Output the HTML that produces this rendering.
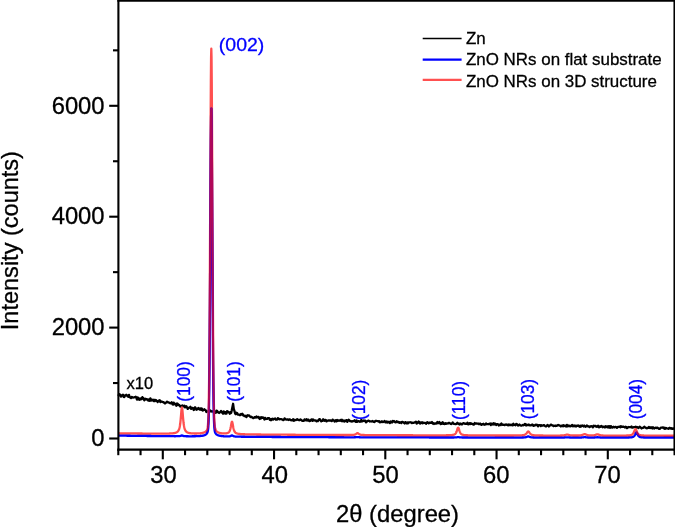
<!DOCTYPE html>
<html><head><meta charset="utf-8"><title>XRD</title>
<style>
html,body{margin:0;padding:0;background:#fff;}
body{width:675px;height:527px;overflow:hidden;}
svg{display:block;will-change:transform;}
text{font-family:"Liberation Sans",sans-serif;fill:#000;stroke:#000;stroke-width:0.3px;}
.tk{font-size:23.8px;}
.pk{font-size:17.3px;fill:#0000ff;stroke:#0000ff;}
.lg{font-size:16.93px;}
.ax{font-size:23.8px;}
</style></head><body>
<svg width="675" height="527" viewBox="0 0 675 527">
<defs>
<path id="rp" d="M118.30 433.26L118.52 433.27L118.75 433.27L118.97 433.27L119.19 433.27L119.41 433.28L119.64 433.28L119.86 433.28L120.08 433.29L120.30 433.29L120.53 433.29L120.75 433.29L120.97 433.30L121.19 433.30L121.42 433.30L121.64 433.30L121.86 433.31L122.08 433.31L122.31 433.31L122.53 433.31L122.75 433.32L122.97 433.32L123.20 433.32L123.42 433.32L123.64 433.33L123.86 433.33L124.09 433.33L124.31 433.33L124.53 433.34L124.75 433.34L124.98 433.34L125.20 433.34L125.42 433.35L125.64 433.35L125.87 433.35L126.09 433.35L126.31 433.36L126.53 433.36L126.76 433.36L126.98 433.36L127.20 433.37L127.42 433.37L127.65 433.37L127.87 433.37L128.09 433.38L128.31 433.38L128.54 433.38L128.76 433.38L128.98 433.39L129.20 433.39L129.43 433.39L129.65 433.39L129.87 433.40L130.09 433.40L130.31 433.40L130.54 433.40L130.76 433.41L130.98 433.41L131.21 433.41L131.43 433.41L131.65 433.42L131.87 433.42L132.09 433.42L132.32 433.42L132.54 433.43L132.76 433.43L132.99 433.43L133.21 433.43L133.43 433.44L133.65 433.44L133.88 433.44L134.10 433.44L134.32 433.44L134.54 433.45L134.77 433.45L134.99 433.45L135.21 433.45L135.43 433.46L135.66 433.46L135.88 433.46L136.10 433.46L136.32 433.46L136.55 433.47L136.77 433.47L136.99 433.47L137.21 433.47L137.44 433.48L137.66 433.48L137.88 433.48L138.10 433.48L138.33 433.48L138.55 433.49L138.77 433.49L138.99 433.49L139.22 433.49L139.44 433.50L139.66 433.50L139.88 433.50L140.11 433.50L140.33 433.50L140.55 433.51L140.77 433.51L141.00 433.51L141.22 433.51L141.44 433.51L141.66 433.52L141.89 433.52L142.11 433.52L142.33 433.52L142.55 433.53L142.78 433.53L143.00 433.53L143.22 433.53L143.44 433.53L143.67 433.54L143.89 433.54L144.11 433.54L144.33 433.54L144.56 433.54L144.78 433.54L145.00 433.55L145.22 433.55L145.45 433.55L145.67 433.55L145.89 433.55L146.11 433.56L146.34 433.56L146.56 433.56L146.78 433.56L147.00 433.56L147.23 433.57L147.45 433.57L147.67 433.57L147.89 433.57L148.12 433.57L148.34 433.57L148.56 433.58L148.78 433.58L149.01 433.58L149.23 433.58L149.45 433.58L149.67 433.58L149.90 433.59L150.12 433.59L150.34 433.59L150.56 433.59L150.79 433.59L151.01 433.59L151.23 433.60L151.45 433.60L151.68 433.60L151.90 433.60L152.12 433.60L152.34 433.60L152.56 433.60L152.79 433.61L153.01 433.61L153.23 433.61L153.46 433.61L153.68 433.61L153.90 433.61L154.12 433.61L154.35 433.61L154.57 433.62L154.79 433.62L155.01 433.62L155.24 433.62L155.46 433.62L155.68 433.62L155.90 433.62L156.12 433.62L156.35 433.62L156.57 433.62L156.79 433.62L157.02 433.63L157.24 433.63L157.46 433.63L157.68 433.63L157.91 433.63L158.13 433.63L158.35 433.63L158.57 433.63L158.80 433.63L159.02 433.63L159.24 433.63L159.46 433.63L159.69 433.63L159.91 433.63L160.13 433.63L160.35 433.63L160.58 433.63L160.80 433.63L161.02 433.63L161.24 433.63L161.47 433.63L161.69 433.63L161.91 433.63L162.13 433.63L162.36 433.63L162.58 433.63L162.80 433.63L163.02 433.63L163.25 433.62L163.47 433.62L163.69 433.62L163.91 433.62L164.14 433.62L164.36 433.62L164.58 433.61L164.80 433.61L165.03 433.61L165.25 433.61L165.47 433.61L165.69 433.60L165.92 433.60L166.14 433.60L166.36 433.59L166.58 433.59L166.81 433.59L167.03 433.58L167.25 433.58L167.47 433.57L167.70 433.57L167.92 433.56L168.14 433.56L168.36 433.55L168.59 433.54L168.81 433.54L169.03 433.53L169.25 433.52L169.48 433.51L169.70 433.50L169.92 433.49L170.14 433.48L170.37 433.47L170.59 433.46L170.81 433.45L171.03 433.44L171.25 433.42L171.48 433.41L171.70 433.39L171.92 433.37L172.15 433.35L172.37 433.33L172.59 433.31L172.81 433.29L173.04 433.26L173.26 433.24L173.48 433.21L173.70 433.18L173.93 433.14L174.15 433.10L174.37 433.06L174.59 433.02L174.81 432.97L175.04 432.92L175.26 432.86L175.48 432.79L175.71 432.72L175.93 432.64L176.15 432.55L176.37 432.45L176.60 432.34L176.82 432.22L177.04 432.08L177.26 431.92L177.49 431.74L177.71 431.54L177.93 431.30L178.15 431.02L178.38 430.69L178.60 430.30L178.82 429.84L179.04 429.28L179.27 428.60L179.49 427.77L179.71 426.76L179.93 425.53L180.16 424.03L180.38 422.25L180.60 420.14L180.82 417.72L181.05 415.07L181.27 412.36L181.49 409.91L181.71 408.17L181.94 407.53L182.16 408.17L182.38 409.91L182.60 412.36L182.83 415.07L183.05 417.73L183.27 420.15L183.49 422.25L183.72 424.04L183.94 425.53L184.16 426.77L184.38 427.78L184.61 428.61L184.83 429.29L185.05 429.85L185.27 430.32L185.50 430.71L185.72 431.03L185.94 431.31L186.16 431.55L186.38 431.76L186.61 431.94L186.83 432.10L187.05 432.24L187.28 432.36L187.50 432.47L187.72 432.57L187.94 432.66L188.17 432.74L188.39 432.81L188.61 432.87L188.83 432.93L189.06 432.99L189.28 433.04L189.50 433.08L189.72 433.12L189.94 433.16L190.17 433.19L190.39 433.22L190.61 433.25L190.84 433.28L191.06 433.30L191.28 433.32L191.50 433.34L191.73 433.36L191.95 433.38L192.17 433.39L192.39 433.41L192.62 433.42L192.84 433.43L193.06 433.44L193.28 433.45L193.50 433.46L193.73 433.47L193.95 433.47L194.17 433.48L194.40 433.48L194.62 433.49L194.84 433.49L195.06 433.49L195.29 433.49L195.51 433.49L195.73 433.49L195.95 433.49L196.18 433.49L196.40 433.49L196.62 433.48L196.84 433.48L197.06 433.47L197.29 433.47L197.51 433.46L197.73 433.45L197.95 433.44L198.18 433.43L198.40 433.42L198.62 433.41L198.85 433.40L199.07 433.38L199.29 433.37L199.51 433.35L199.74 433.33L199.96 433.31L200.18 433.29L200.40 433.27L200.62 433.24L200.85 433.22L201.07 433.19L201.29 433.15L201.52 433.12L201.74 433.08L201.96 433.04L202.18 433.00L202.41 432.95L202.63 432.90L202.85 432.85L203.07 432.79L203.30 432.72L203.52 432.65L203.74 432.57L203.96 432.49L204.19 432.40L204.41 432.29L204.63 432.18L204.85 432.06L205.07 431.92L205.30 431.77L205.52 431.60L205.74 431.41L205.97 431.20L206.19 430.96L206.41 430.68L206.63 430.36L206.86 429.97L207.08 429.49L207.30 428.85L207.52 427.95L207.75 426.62L207.97 424.57L208.19 421.37L208.41 416.40L208.64 408.82L208.86 397.61L209.08 381.63L209.30 359.80L209.53 331.34L209.75 296.09L209.97 254.77L210.19 209.21L210.42 162.39L210.64 118.35L210.86 81.77L211.08 57.36L211.31 48.75L211.53 57.36L211.75 81.78L211.97 118.36L212.19 162.41L212.42 209.22L212.64 254.79L212.86 296.11L213.08 331.37L213.31 359.83L213.53 381.66L213.75 397.65L213.98 408.86L214.20 416.44L214.42 421.41L214.64 424.61L214.87 426.66L215.09 428.00L215.31 428.90L215.53 429.54L215.75 430.03L215.98 430.42L216.20 430.74L216.42 431.02L216.65 431.27L216.87 431.48L217.09 431.67L217.31 431.84L217.54 432.00L217.76 432.14L217.98 432.26L218.20 432.38L218.43 432.48L218.65 432.57L218.87 432.66L219.09 432.74L219.31 432.81L219.54 432.88L219.76 432.94L219.98 432.99L220.20 433.05L220.43 433.09L220.65 433.14L220.87 433.17L221.10 433.21L221.32 433.24L221.54 433.27L221.76 433.30L221.99 433.33L222.21 433.35L222.43 433.37L222.65 433.39L222.88 433.40L223.10 433.41L223.32 433.43L223.54 433.43L223.77 433.44L223.99 433.44L224.21 433.45L224.43 433.44L224.66 433.44L224.88 433.43L225.10 433.43L225.32 433.41L225.55 433.40L225.77 433.38L225.99 433.35L226.21 433.32L226.44 433.29L226.66 433.25L226.88 433.20L227.10 433.15L227.32 433.08L227.55 433.01L227.77 432.92L227.99 432.82L228.22 432.69L228.44 432.55L228.66 432.37L228.88 432.16L229.11 431.90L229.33 431.58L229.55 431.20L229.77 430.72L230.00 430.14L230.22 429.44L230.44 428.60L230.66 427.60L230.89 426.46L231.11 425.20L231.33 423.92L231.55 422.76L231.78 421.94L232.00 421.64L232.22 421.95L232.44 422.79L232.67 423.96L232.89 425.25L233.11 426.52L233.33 427.68L233.56 428.69L233.78 429.54L234.00 430.26L234.22 430.85L234.44 431.33L234.67 431.73L234.89 432.06L235.11 432.33L235.33 432.56L235.56 432.75L235.78 432.91L236.00 433.05L236.23 433.17L236.45 433.27L236.67 433.36L236.89 433.44L237.12 433.51L237.34 433.57L237.56 433.63L237.78 433.68L238.00 433.73L238.23 433.77L238.45 433.81L238.67 433.84L238.90 433.88L239.12 433.91L239.34 433.93L239.56 433.96L239.79 433.98L240.01 434.00L240.23 434.02L240.45 434.04L240.68 434.06L240.90 434.08L241.12 434.09L241.34 434.11L241.56 434.12L241.79 434.14L242.01 434.15L242.23 434.16L242.45 434.17L242.68 434.18L242.90 434.19L243.12 434.20L243.35 434.21L243.57 434.22L243.79 434.23L244.01 434.24L244.24 434.25L244.46 434.25L244.68 434.26L244.90 434.27L245.12 434.28L245.35 434.28L245.57 434.29L245.79 434.29L246.02 434.30L246.24 434.31L246.46 434.31L246.68 434.32L246.91 434.32L247.13 434.33L247.35 434.33L247.57 434.34L247.80 434.34L248.02 434.35L248.24 434.35L248.46 434.36L248.69 434.36L248.91 434.37L249.13 434.37L249.35 434.37L249.57 434.38L249.80 434.38L250.02 434.39L250.24 434.39L250.47 434.39L250.69 434.40L250.91 434.40L251.13 434.40L251.36 434.41L251.58 434.41L251.80 434.42L252.02 434.42L252.25 434.42L252.47 434.43L252.69 434.43L252.91 434.43L253.14 434.43L253.36 434.44L253.58 434.44L253.80 434.44L254.03 434.45L254.25 434.45L254.47 434.45L254.69 434.46L254.92 434.46L255.14 434.46L255.36 434.46L255.58 434.47L255.81 434.47L256.03 434.47L256.25 434.47L256.47 434.48L256.69 434.48L256.92 434.48L257.14 434.48L257.36 434.49L257.58 434.49L257.81 434.49L258.03 434.49L258.25 434.50L258.48 434.50L258.70 434.50L258.92 434.50L259.14 434.51L259.37 434.51L259.59 434.51L259.81 434.51L260.03 434.52L260.25 434.52L260.48 434.52L260.70 434.52L260.92 434.52L261.15 434.53L261.37 434.53L261.59 434.53L261.81 434.53L262.04 434.53L262.26 434.54L262.48 434.54L262.70 434.54L262.93 434.54L263.15 434.55L263.37 434.55L263.59 434.55L263.81 434.55L264.04 434.55L264.26 434.56L264.48 434.56L264.70 434.56L264.93 434.56L265.15 434.56L265.37 434.56L265.60 434.57L265.82 434.57L266.04 434.57L266.26 434.57L266.49 434.57L266.71 434.58L266.93 434.58L267.15 434.58L267.38 434.58L267.60 434.58L267.82 434.59L268.04 434.59L268.27 434.59L268.49 434.59L268.71 434.59L268.93 434.59L269.16 434.60L269.38 434.60L269.60 434.60L269.82 434.60L270.05 434.60L270.27 434.61L270.49 434.61L270.71 434.61L270.94 434.61L271.16 434.61L271.38 434.61L271.60 434.62L271.82 434.62L272.05 434.62L272.27 434.62L272.49 434.62L272.72 434.62L272.94 434.63L273.16 434.63L273.38 434.63L273.61 434.63L273.83 434.63L274.05 434.63L274.27 434.64L274.50 434.64L274.72 434.64L274.94 434.64L275.16 434.64L275.39 434.64L275.61 434.65L275.83 434.65L276.05 434.65L276.28 434.65L276.50 434.65L276.72 434.65L276.94 434.66L277.17 434.66L277.39 434.66L277.61 434.66L277.83 434.66L278.06 434.66L278.28 434.66L278.50 434.67L278.72 434.67L278.94 434.67L279.17 434.67L279.39 434.67L279.61 434.67L279.83 434.68L280.06 434.68L280.28 434.68L280.50 434.68L280.73 434.68L280.95 434.68L281.17 434.68L281.39 434.69L281.62 434.69L281.84 434.69L282.06 434.69L282.28 434.69L282.50 434.69L282.73 434.69L282.95 434.70L283.17 434.70L283.40 434.70L283.62 434.70L283.84 434.70L284.06 434.70L284.29 434.71L284.51 434.71L284.73 434.71L284.95 434.71L285.18 434.71L285.40 434.71L285.62 434.71L285.84 434.72L286.06 434.72L286.29 434.72L286.51 434.72L286.73 434.72L286.95 434.72L287.18 434.72L287.40 434.73L287.62 434.73L287.85 434.73L288.07 434.73L288.29 434.73L288.51 434.73L288.74 434.73L288.96 434.74L289.18 434.74L289.40 434.74L289.62 434.74L289.85 434.74L290.07 434.74L290.29 434.74L290.52 434.74L290.74 434.75L290.96 434.75L291.18 434.75L291.41 434.75L291.63 434.75L291.85 434.75L292.07 434.75L292.30 434.76L292.52 434.76L292.74 434.76L292.96 434.76L293.19 434.76L293.41 434.76L293.63 434.76L293.85 434.77L294.07 434.77L294.30 434.77L294.52 434.77L294.74 434.77L294.97 434.77L295.19 434.77L295.41 434.77L295.63 434.78L295.86 434.78L296.08 434.78L296.30 434.78L296.52 434.78L296.75 434.78L296.97 434.78L297.19 434.78L297.41 434.79L297.64 434.79L297.86 434.79L298.08 434.79L298.30 434.79L298.53 434.79L298.75 434.79L298.97 434.80L299.19 434.80L299.42 434.80L299.64 434.80L299.86 434.80L300.08 434.80L300.31 434.80L300.53 434.80L300.75 434.81L300.97 434.81L301.19 434.81L301.42 434.81L301.64 434.81L301.86 434.81L302.08 434.81L302.31 434.81L302.53 434.82L302.75 434.82L302.98 434.82L303.20 434.82L303.42 434.82L303.64 434.82L303.87 434.82L304.09 434.82L304.31 434.83L304.53 434.83L304.76 434.83L304.98 434.83L305.20 434.83L305.42 434.83L305.65 434.83L305.87 434.83L306.09 434.84L306.31 434.84L306.54 434.84L306.76 434.84L306.98 434.84L307.20 434.84L307.43 434.84L307.65 434.84L307.87 434.84L308.09 434.85L308.31 434.85L308.54 434.85L308.76 434.85L308.98 434.85L309.20 434.85L309.43 434.85L309.65 434.85L309.87 434.86L310.10 434.86L310.32 434.86L310.54 434.86L310.76 434.86L310.99 434.86L311.21 434.86L311.43 434.86L311.65 434.86L311.88 434.87L312.10 434.87L312.32 434.87L312.54 434.87L312.77 434.87L312.99 434.87L313.21 434.87L313.43 434.87L313.66 434.88L313.88 434.88L314.10 434.88L314.32 434.88L314.55 434.88L314.77 434.88L314.99 434.88L315.21 434.88L315.44 434.88L315.66 434.89L315.88 434.89L316.10 434.89L316.32 434.89L316.55 434.89L316.77 434.89L316.99 434.89L317.21 434.89L317.44 434.89L317.66 434.90L317.88 434.90L318.11 434.90L318.33 434.90L318.55 434.90L318.77 434.90L319.00 434.90L319.22 434.90L319.44 434.90L319.66 434.91L319.89 434.91L320.11 434.91L320.33 434.91L320.55 434.91L320.78 434.91L321.00 434.91L321.22 434.91L321.44 434.91L321.67 434.92L321.89 434.92L322.11 434.92L322.33 434.92L322.56 434.92L322.78 434.92L323.00 434.92L323.22 434.92L323.44 434.92L323.67 434.92L323.89 434.93L324.11 434.93L324.33 434.93L324.56 434.93L324.78 434.93L325.00 434.93L325.23 434.93L325.45 434.93L325.67 434.93L325.89 434.94L326.12 434.94L326.34 434.94L326.56 434.94L326.78 434.94L327.01 434.94L327.23 434.94L327.45 434.94L327.67 434.94L327.90 434.94L328.12 434.95L328.34 434.95L328.56 434.95L328.79 434.95L329.01 434.95L329.23 434.95L329.45 434.95L329.68 434.95L329.90 434.95L330.12 434.95L330.34 434.96L330.56 434.96L330.79 434.96L331.01 434.96L331.23 434.96L331.45 434.96L331.68 434.96L331.90 434.96L332.12 434.96L332.35 434.96L332.57 434.96L332.79 434.97L333.01 434.97L333.24 434.97L333.46 434.97L333.68 434.97L333.90 434.97L334.13 434.97L334.35 434.97L334.57 434.97L334.79 434.97L335.02 434.97L335.24 434.98L335.46 434.98L335.68 434.98L335.91 434.98L336.13 434.98L336.35 434.98L336.57 434.98L336.80 434.98L337.02 434.98L337.24 434.98L337.46 434.98L337.69 434.98L337.91 434.99L338.13 434.99L338.35 434.99L338.57 434.99L338.80 434.99L339.02 434.99L339.24 434.99L339.46 434.99L339.69 434.99L339.91 434.99L340.13 434.99L340.36 434.99L340.58 434.99L340.80 434.99L341.02 434.99L341.25 435.00L341.47 435.00L341.69 435.00L341.91 435.00L342.14 435.00L342.36 435.00L342.58 435.00L342.80 435.00L343.03 435.00L343.25 435.00L343.47 435.00L343.69 435.00L343.92 435.00L344.14 435.00L344.36 435.00L344.58 435.00L344.81 435.00L345.03 435.00L345.25 435.00L345.47 435.00L345.69 435.00L345.92 435.00L346.14 435.00L346.36 435.00L346.58 435.00L346.81 435.00L347.03 435.00L347.25 435.00L347.48 435.00L347.70 435.00L347.92 435.00L348.14 434.99L348.37 434.99L348.59 434.99L348.81 434.99L349.03 434.99L349.26 434.99L349.48 434.98L349.70 434.98L349.92 434.98L350.15 434.97L350.37 434.97L350.59 434.97L350.81 434.96L351.04 434.96L351.26 434.95L351.48 434.95L351.70 434.94L351.93 434.93L352.15 434.92L352.37 434.91L352.59 434.90L352.81 434.88L353.04 434.87L353.26 434.85L353.48 434.83L353.70 434.80L353.93 434.77L354.15 434.73L354.37 434.69L354.60 434.63L354.82 434.57L355.04 434.49L355.26 434.40L355.49 434.29L355.71 434.17L355.93 434.03L356.15 433.88L356.38 433.72L356.60 433.55L356.82 433.39L357.04 433.26L357.27 433.17L357.49 433.14L357.71 433.17L357.93 433.26L358.16 433.40L358.38 433.56L358.60 433.73L358.82 433.89L359.05 434.05L359.27 434.19L359.49 434.31L359.71 434.42L359.94 434.51L360.16 434.59L360.38 434.66L360.60 434.71L360.82 434.76L361.05 434.80L361.27 434.83L361.49 434.86L361.71 434.88L361.94 434.91L362.16 434.92L362.38 434.94L362.61 434.95L362.83 434.96L363.05 434.98L363.27 434.99L363.50 434.99L363.72 435.00L363.94 435.01L364.16 435.02L364.39 435.02L364.61 435.03L364.83 435.03L365.05 435.04L365.28 435.04L365.50 435.05L365.72 435.05L365.94 435.06L366.17 435.06L366.39 435.06L366.61 435.07L366.83 435.07L367.06 435.07L367.28 435.08L367.50 435.08L367.72 435.08L367.94 435.08L368.17 435.09L368.39 435.09L368.61 435.09L368.83 435.09L369.06 435.10L369.28 435.10L369.50 435.10L369.73 435.10L369.95 435.10L370.17 435.11L370.39 435.11L370.62 435.11L370.84 435.11L371.06 435.11L371.28 435.11L371.51 435.12L371.73 435.12L371.95 435.12L372.17 435.12L372.40 435.12L372.62 435.12L372.84 435.12L373.06 435.13L373.29 435.13L373.51 435.13L373.73 435.13L373.95 435.13L374.18 435.13L374.40 435.13L374.62 435.13L374.84 435.14L375.06 435.14L375.29 435.14L375.51 435.14L375.73 435.14L375.95 435.14L376.18 435.14L376.40 435.14L376.62 435.14L376.85 435.15L377.07 435.15L377.29 435.15L377.51 435.15L377.74 435.15L377.96 435.15L378.18 435.15L378.40 435.15L378.63 435.15L378.85 435.16L379.07 435.16L379.29 435.16L379.52 435.16L379.74 435.16L379.96 435.16L380.18 435.16L380.41 435.16L380.63 435.16L380.85 435.16L381.07 435.17L381.30 435.17L381.52 435.17L381.74 435.17L381.96 435.17L382.19 435.17L382.41 435.17L382.63 435.17L382.85 435.17L383.07 435.17L383.30 435.17L383.52 435.18L383.74 435.18L383.96 435.18L384.19 435.18L384.41 435.18L384.63 435.18L384.86 435.18L385.08 435.18L385.30 435.18L385.52 435.18L385.75 435.18L385.97 435.18L386.19 435.19L386.41 435.19L386.64 435.19L386.86 435.19L387.08 435.19L387.30 435.19L387.53 435.19L387.75 435.19L387.97 435.19L388.19 435.19L388.42 435.19L388.64 435.20L388.86 435.20L389.08 435.20L389.31 435.20L389.53 435.20L389.75 435.20L389.97 435.20L390.19 435.20L390.42 435.20L390.64 435.20L390.86 435.20L391.08 435.20L391.31 435.20L391.53 435.21L391.75 435.21L391.98 435.21L392.20 435.21L392.42 435.21L392.64 435.21L392.87 435.21L393.09 435.21L393.31 435.21L393.53 435.21L393.76 435.21L393.98 435.21L394.20 435.22L394.42 435.22L394.65 435.22L394.87 435.22L395.09 435.22L395.31 435.22L395.54 435.22L395.76 435.22L395.98 435.22L396.20 435.22L396.43 435.22L396.65 435.22L396.87 435.22L397.09 435.23L397.31 435.23L397.54 435.23L397.76 435.23L397.98 435.23L398.20 435.23L398.43 435.23L398.65 435.23L398.87 435.23L399.10 435.23L399.32 435.23L399.54 435.23L399.76 435.23L399.99 435.23L400.21 435.24L400.43 435.24L400.65 435.24L400.88 435.24L401.10 435.24L401.32 435.24L401.54 435.24L401.77 435.24L401.99 435.24L402.21 435.24L402.43 435.24L402.66 435.24L402.88 435.24L403.10 435.24L403.32 435.25L403.55 435.25L403.77 435.25L403.99 435.25L404.21 435.25L404.44 435.25L404.66 435.25L404.88 435.25L405.10 435.25L405.32 435.25L405.55 435.25L405.77 435.25L405.99 435.25L406.21 435.25L406.44 435.26L406.66 435.26L406.88 435.26L407.11 435.26L407.33 435.26L407.55 435.26L407.77 435.26L408.00 435.26L408.22 435.26L408.44 435.26L408.66 435.26L408.89 435.26L409.11 435.26L409.33 435.26L409.55 435.27L409.78 435.27L410.00 435.27L410.22 435.27L410.44 435.27L410.67 435.27L410.89 435.27L411.11 435.27L411.33 435.27L411.56 435.27L411.78 435.27L412.00 435.27L412.22 435.27L412.44 435.27L412.67 435.27L412.89 435.27L413.11 435.28L413.33 435.28L413.56 435.28L413.78 435.28L414.00 435.28L414.23 435.28L414.45 435.28L414.67 435.28L414.89 435.28L415.12 435.28L415.34 435.28L415.56 435.28L415.78 435.28L416.01 435.28L416.23 435.28L416.45 435.28L416.67 435.29L416.90 435.29L417.12 435.29L417.34 435.29L417.56 435.29L417.79 435.29L418.01 435.29L418.23 435.29L418.45 435.29L418.68 435.29L418.90 435.29L419.12 435.29L419.34 435.29L419.56 435.29L419.79 435.29L420.01 435.29L420.23 435.29L420.45 435.30L420.68 435.30L420.90 435.30L421.12 435.30L421.35 435.30L421.57 435.30L421.79 435.30L422.01 435.30L422.24 435.30L422.46 435.30L422.68 435.30L422.90 435.30L423.13 435.30L423.35 435.30L423.57 435.30L423.79 435.30L424.02 435.30L424.24 435.30L424.46 435.30L424.68 435.31L424.91 435.31L425.13 435.31L425.35 435.31L425.57 435.31L425.80 435.31L426.02 435.31L426.24 435.31L426.46 435.31L426.69 435.31L426.91 435.31L427.13 435.31L427.35 435.31L427.57 435.31L427.80 435.31L428.02 435.31L428.24 435.31L428.46 435.31L428.69 435.31L428.91 435.31L429.13 435.31L429.36 435.31L429.58 435.31L429.80 435.31L430.02 435.32L430.25 435.32L430.47 435.32L430.69 435.32L430.91 435.32L431.14 435.32L431.36 435.32L431.58 435.32L431.80 435.32L432.03 435.32L432.25 435.32L432.47 435.32L432.69 435.32L432.92 435.32L433.14 435.32L433.36 435.32L433.58 435.32L433.81 435.32L434.03 435.32L434.25 435.32L434.47 435.32L434.69 435.32L434.92 435.32L435.14 435.32L435.36 435.32L435.58 435.32L435.81 435.32L436.03 435.32L436.25 435.32L436.48 435.32L436.70 435.32L436.92 435.32L437.14 435.32L437.37 435.32L437.59 435.32L437.81 435.32L438.03 435.32L438.26 435.32L438.48 435.32L438.70 435.32L438.92 435.32L439.15 435.32L439.37 435.32L439.59 435.32L439.81 435.32L440.04 435.32L440.26 435.32L440.48 435.32L440.70 435.32L440.93 435.31L441.15 435.31L441.37 435.31L441.59 435.31L441.81 435.31L442.04 435.31L442.26 435.31L442.48 435.31L442.70 435.31L442.93 435.31L443.15 435.30L443.37 435.30L443.60 435.30L443.82 435.30L444.04 435.30L444.26 435.30L444.49 435.30L444.71 435.29L444.93 435.29L445.15 435.29L445.38 435.29L445.60 435.28L445.82 435.28L446.04 435.28L446.27 435.27L446.49 435.27L446.71 435.27L446.93 435.26L447.16 435.26L447.38 435.26L447.60 435.25L447.82 435.25L448.05 435.24L448.27 435.23L448.49 435.23L448.71 435.22L448.94 435.21L449.16 435.21L449.38 435.20L449.60 435.19L449.82 435.18L450.05 435.17L450.27 435.16L450.49 435.14L450.71 435.13L450.94 435.12L451.16 435.10L451.38 435.08L451.61 435.06L451.83 435.04L452.05 435.02L452.27 434.99L452.50 434.96L452.72 434.93L452.94 434.89L453.16 434.85L453.39 434.80L453.61 434.75L453.83 434.68L454.05 434.61L454.28 434.52L454.50 434.42L454.72 434.30L454.94 434.15L455.17 433.97L455.39 433.75L455.61 433.49L455.83 433.17L456.06 432.79L456.28 432.34L456.50 431.81L456.72 431.22L456.94 430.55L457.17 429.85L457.39 429.13L457.61 428.48L457.83 427.97L458.06 427.68L458.28 427.68L458.50 427.97L458.73 428.48L458.95 429.14L459.17 429.85L459.39 430.56L459.62 431.22L459.84 431.82L460.06 432.35L460.28 432.80L460.51 433.18L460.73 433.50L460.95 433.76L461.17 433.98L461.40 434.16L461.62 434.31L461.84 434.44L462.06 434.54L462.29 434.63L462.51 434.70L462.73 434.77L462.95 434.82L463.18 434.87L463.40 434.92L463.62 434.95L463.84 434.99L464.06 435.02L464.29 435.05L464.51 435.07L464.73 435.09L464.95 435.12L465.18 435.13L465.40 435.15L465.62 435.17L465.85 435.18L466.07 435.20L466.29 435.21L466.51 435.22L466.74 435.23L466.96 435.24L467.18 435.25L467.40 435.26L467.63 435.27L467.85 435.28L468.07 435.28L468.29 435.29L468.52 435.30L468.74 435.30L468.96 435.31L469.18 435.31L469.41 435.32L469.63 435.32L469.85 435.33L470.07 435.33L470.30 435.34L470.52 435.34L470.74 435.35L470.96 435.35L471.19 435.35L471.41 435.36L471.63 435.36L471.85 435.36L472.07 435.37L472.30 435.37L472.52 435.37L472.74 435.37L472.96 435.38L473.19 435.38L473.41 435.38L473.63 435.38L473.86 435.39L474.08 435.39L474.30 435.39L474.52 435.39L474.75 435.39L474.97 435.40L475.19 435.40L475.41 435.40L475.63 435.40L475.86 435.40L476.08 435.40L476.30 435.41L476.53 435.41L476.75 435.41L476.97 435.41L477.19 435.41L477.42 435.41L477.64 435.41L477.86 435.42L478.08 435.42L478.31 435.42L478.53 435.42L478.75 435.42L478.97 435.42L479.19 435.42L479.42 435.42L479.64 435.43L479.86 435.43L480.09 435.43L480.31 435.43L480.53 435.43L480.75 435.43L480.98 435.43L481.20 435.43L481.42 435.43L481.64 435.44L481.87 435.44L482.09 435.44L482.31 435.44L482.53 435.44L482.75 435.44L482.98 435.44L483.20 435.44L483.42 435.44L483.65 435.44L483.87 435.44L484.09 435.45L484.31 435.45L484.54 435.45L484.76 435.45L484.98 435.45L485.20 435.45L485.43 435.45L485.65 435.45L485.87 435.45L486.09 435.45L486.31 435.45L486.54 435.45L486.76 435.45L486.98 435.45L487.21 435.46L487.43 435.46L487.65 435.46L487.87 435.46L488.10 435.46L488.32 435.46L488.54 435.46L488.76 435.46L488.99 435.46L489.21 435.46L489.43 435.46L489.65 435.46L489.88 435.46L490.10 435.46L490.32 435.46L490.54 435.46L490.77 435.47L490.99 435.47L491.21 435.47L491.43 435.47L491.66 435.47L491.88 435.47L492.10 435.47L492.32 435.47L492.55 435.47L492.77 435.47L492.99 435.47L493.21 435.47L493.44 435.47L493.66 435.47L493.88 435.47L494.10 435.47L494.32 435.47L494.55 435.47L494.77 435.47L494.99 435.48L495.22 435.48L495.44 435.48L495.66 435.48L495.88 435.48L496.11 435.48L496.33 435.48L496.55 435.48L496.77 435.48L497.00 435.48L497.22 435.48L497.44 435.48L497.66 435.48L497.88 435.48L498.11 435.48L498.33 435.48L498.55 435.48L498.78 435.48L499.00 435.48L499.22 435.48L499.44 435.48L499.67 435.48L499.89 435.48L500.11 435.48L500.33 435.48L500.56 435.48L500.78 435.49L501.00 435.49L501.22 435.49L501.44 435.49L501.67 435.49L501.89 435.49L502.11 435.49L502.34 435.49L502.56 435.49L502.78 435.49L503.00 435.49L503.23 435.49L503.45 435.49L503.67 435.49L503.89 435.49L504.12 435.49L504.34 435.49L504.56 435.49L504.78 435.49L505.00 435.49L505.23 435.49L505.45 435.49L505.67 435.49L505.90 435.49L506.12 435.49L506.34 435.49L506.56 435.49L506.79 435.49L507.01 435.49L507.23 435.49L507.45 435.49L507.68 435.49L507.90 435.49L508.12 435.49L508.34 435.49L508.56 435.49L508.79 435.49L509.01 435.49L509.23 435.49L509.46 435.49L509.68 435.49L509.90 435.49L510.12 435.49L510.35 435.49L510.57 435.49L510.79 435.49L511.01 435.48L511.24 435.48L511.46 435.48L511.68 435.48L511.90 435.48L512.12 435.48L512.35 435.48L512.57 435.48L512.79 435.48L513.02 435.48L513.24 435.48L513.46 435.48L513.68 435.48L513.90 435.47L514.13 435.47L514.35 435.47L514.57 435.47L514.80 435.47L515.02 435.47L515.24 435.46L515.46 435.46L515.68 435.46L515.91 435.46L516.13 435.46L516.35 435.45L516.58 435.45L516.80 435.45L517.02 435.45L517.24 435.44L517.47 435.44L517.69 435.44L517.91 435.43L518.13 435.43L518.36 435.42L518.58 435.42L518.80 435.41L519.02 435.41L519.25 435.40L519.47 435.40L519.69 435.39L519.91 435.38L520.13 435.37L520.36 435.37L520.58 435.36L520.80 435.35L521.03 435.34L521.25 435.32L521.47 435.31L521.69 435.30L521.91 435.28L522.14 435.26L522.36 435.24L522.58 435.22L522.81 435.20L523.03 435.17L523.25 435.14L523.47 435.10L523.69 435.06L523.92 435.01L524.14 434.95L524.36 434.89L524.59 434.81L524.81 434.72L525.03 434.61L525.25 434.49L525.48 434.35L525.70 434.18L525.92 433.99L526.14 433.77L526.37 433.53L526.59 433.26L526.81 432.97L527.03 432.67L527.25 432.36L527.48 432.07L527.70 431.81L527.92 431.62L528.14 431.52L528.37 431.52L528.59 431.62L528.81 431.81L529.04 432.07L529.26 432.36L529.48 432.67L529.70 432.98L529.92 433.27L530.15 433.54L530.37 433.78L530.59 434.00L530.82 434.19L531.04 434.36L531.26 434.50L531.48 434.63L531.71 434.73L531.93 434.82L532.15 434.90L532.37 434.97L532.60 435.02L532.82 435.07L533.04 435.12L533.26 435.15L533.49 435.19L533.71 435.21L533.93 435.24L534.15 435.26L534.38 435.28L534.60 435.30L534.82 435.32L535.04 435.33L535.27 435.35L535.49 435.36L535.71 435.37L535.93 435.38L536.15 435.39L536.38 435.40L536.60 435.41L536.82 435.42L537.05 435.43L537.27 435.43L537.49 435.44L537.71 435.45L537.93 435.45L538.16 435.46L538.38 435.46L538.60 435.47L538.83 435.47L539.05 435.48L539.27 435.48L539.49 435.48L539.72 435.49L539.94 435.49L540.16 435.49L540.38 435.50L540.61 435.50L540.83 435.50L541.05 435.51L541.27 435.51L541.49 435.51L541.72 435.51L541.94 435.52L542.16 435.52L542.38 435.52L542.61 435.52L542.83 435.52L543.05 435.52L543.28 435.53L543.50 435.53L543.72 435.53L543.94 435.53L544.16 435.53L544.39 435.53L544.61 435.54L544.83 435.54L545.06 435.54L545.28 435.54L545.50 435.54L545.72 435.54L545.94 435.54L546.17 435.54L546.39 435.54L546.61 435.55L546.84 435.55L547.06 435.55L547.28 435.55L547.50 435.55L547.72 435.55L547.95 435.55L548.17 435.55L548.39 435.55L548.62 435.55L548.84 435.55L549.06 435.55L549.28 435.56L549.50 435.56L549.73 435.56L549.95 435.56L550.17 435.56L550.39 435.56L550.62 435.56L550.84 435.56L551.06 435.56L551.29 435.56L551.51 435.56L551.73 435.56L551.95 435.56L552.17 435.56L552.40 435.56L552.62 435.56L552.84 435.56L553.07 435.56L553.29 435.56L553.51 435.56L553.73 435.56L553.95 435.56L554.18 435.56L554.40 435.56L554.62 435.56L554.85 435.56L555.07 435.56L555.29 435.56L555.51 435.56L555.73 435.56L555.96 435.56L556.18 435.56L556.40 435.56L556.62 435.56L556.85 435.56L557.07 435.55L557.29 435.55L557.52 435.55L557.74 435.55L557.96 435.55L558.18 435.55L558.40 435.55L558.63 435.55L558.85 435.54L559.07 435.54L559.30 435.54L559.52 435.54L559.74 435.53L559.96 435.53L560.18 435.53L560.41 435.52L560.63 435.52L560.85 435.52L561.08 435.51L561.30 435.50L561.52 435.50L561.74 435.49L561.96 435.48L562.19 435.47L562.41 435.46L562.63 435.44L562.86 435.43L563.08 435.41L563.30 435.39L563.52 435.36L563.74 435.33L563.97 435.30L564.19 435.26L564.41 435.22L564.63 435.18L564.86 435.12L565.08 435.07L565.30 435.01L565.53 434.95L565.75 434.88L565.97 434.82L566.19 434.76L566.41 434.70L566.64 434.65L566.86 434.62L567.08 434.60L567.31 434.60L567.53 434.62L567.75 434.65L567.97 434.70L568.19 434.75L568.42 434.82L568.64 434.88L568.86 434.95L569.09 435.01L569.31 435.07L569.53 435.12L569.75 435.17L569.97 435.22L570.20 435.26L570.42 435.30L570.64 435.33L570.87 435.36L571.09 435.38L571.31 435.41L571.53 435.42L571.75 435.44L571.98 435.45L572.20 435.46L572.42 435.47L572.64 435.48L572.87 435.49L573.09 435.50L573.31 435.50L573.54 435.50L573.76 435.51L573.98 435.51L574.20 435.51L574.42 435.52L574.65 435.52L574.87 435.52L575.09 435.52L575.32 435.52L575.54 435.52L575.76 435.52L575.98 435.52L576.20 435.52L576.43 435.52L576.65 435.51L576.87 435.51L577.10 435.51L577.32 435.51L577.54 435.50L577.76 435.50L577.98 435.49L578.21 435.49L578.43 435.48L578.65 435.47L578.88 435.47L579.10 435.46L579.32 435.44L579.54 435.43L579.77 435.41L579.99 435.40L580.21 435.38L580.43 435.35L580.65 435.32L580.88 435.29L581.10 435.25L581.32 435.21L581.55 435.15L581.77 435.10L581.99 435.03L582.21 434.96L582.43 434.89L582.66 434.80L582.88 434.72L583.10 434.62L583.33 434.53L583.55 434.44L583.77 434.35L583.99 434.28L584.21 434.22L584.44 434.18L584.66 434.17L584.88 434.18L585.11 434.22L585.33 434.27L585.55 434.35L585.77 434.43L585.99 434.53L586.22 434.62L586.44 434.71L586.66 434.80L586.88 434.88L587.11 434.96L587.33 435.03L587.55 435.09L587.78 435.14L588.00 435.19L588.22 435.24L588.44 435.27L588.66 435.30L588.89 435.33L589.11 435.35L589.33 435.37L589.56 435.39L589.78 435.40L590.00 435.41L590.22 435.42L590.44 435.43L590.67 435.43L590.89 435.44L591.11 435.44L591.34 435.44L591.56 435.44L591.78 435.43L592.00 435.43L592.22 435.42L592.45 435.41L592.67 435.40L592.89 435.39L593.12 435.37L593.34 435.35L593.56 435.33L593.78 435.30L594.00 435.26L594.23 435.22L594.45 435.18L594.67 435.13L594.89 435.07L595.12 435.01L595.34 434.94L595.56 434.86L595.79 434.78L596.01 434.70L596.23 434.62L596.45 434.54L596.67 434.47L596.90 434.42L597.12 434.37L597.34 434.35L597.57 434.35L597.79 434.38L598.01 434.42L598.23 434.48L598.45 434.56L598.68 434.64L598.90 434.72L599.12 434.80L599.35 434.88L599.57 434.96L599.79 435.03L600.01 435.10L600.23 435.16L600.46 435.21L600.68 435.26L600.90 435.31L601.12 435.34L601.35 435.38L601.57 435.40L601.79 435.43L602.02 435.45L602.24 435.47L602.46 435.49L602.68 435.50L602.90 435.51L603.13 435.52L603.35 435.53L603.57 435.54L603.80 435.55L604.02 435.55L604.24 435.56L604.46 435.57L604.68 435.57L604.91 435.58L605.13 435.58L605.35 435.58L605.58 435.59L605.80 435.59L606.02 435.59L606.24 435.60L606.46 435.60L606.69 435.60L606.91 435.60L607.13 435.61L607.36 435.61L607.58 435.61L607.80 435.61L608.02 435.61L608.24 435.62L608.47 435.62L608.69 435.62L608.91 435.62L609.13 435.62L609.36 435.62L609.58 435.62L609.80 435.63L610.03 435.63L610.25 435.63L610.47 435.63L610.69 435.63L610.91 435.63L611.14 435.63L611.36 435.63L611.58 435.63L611.81 435.63L612.03 435.63L612.25 435.63L612.47 435.63L612.69 435.63L612.92 435.63L613.14 435.63L613.36 435.64L613.59 435.64L613.81 435.64L614.03 435.64L614.25 435.64L614.47 435.64L614.70 435.64L614.92 435.64L615.14 435.64L615.37 435.64L615.59 435.64L615.81 435.64L616.03 435.64L616.25 435.64L616.48 435.63L616.70 435.63L616.92 435.63L617.14 435.63L617.37 435.63L617.59 435.63L617.81 435.63L618.04 435.63L618.26 435.63L618.48 435.63L618.70 435.63L618.92 435.63L619.15 435.63L619.37 435.63L619.59 435.63L619.82 435.62L620.04 435.62L620.26 435.62L620.48 435.62L620.70 435.62L620.93 435.62L621.15 435.62L621.37 435.61L621.60 435.61L621.82 435.61L622.04 435.61L622.26 435.61L622.48 435.60L622.71 435.60L622.93 435.60L623.15 435.59L623.38 435.59L623.60 435.59L623.82 435.59L624.04 435.58L624.27 435.58L624.49 435.57L624.71 435.57L624.93 435.56L625.15 435.56L625.38 435.55L625.60 435.55L625.82 435.54L626.05 435.53L626.27 435.53L626.49 435.52L626.71 435.51L626.93 435.50L627.16 435.49L627.38 435.48L627.60 435.47L627.83 435.46L628.05 435.44L628.27 435.43L628.49 435.41L628.71 435.39L628.94 435.38L629.16 435.35L629.38 435.33L629.61 435.30L629.83 435.27L630.05 435.24L630.27 435.21L630.49 435.16L630.72 435.12L630.94 435.06L631.16 435.00L631.38 434.93L631.61 434.84L631.83 434.74L632.05 434.62L632.28 434.47L632.50 434.30L632.72 434.09L632.94 433.84L633.16 433.55L633.39 433.21L633.61 432.81L633.83 432.35L634.06 431.85L634.28 431.29L634.50 430.72L634.72 430.15L634.94 429.64L635.17 429.24L635.39 429.03L635.61 429.03L635.84 429.24L636.06 429.64L636.28 430.15L636.50 430.72L636.72 431.30L636.95 431.85L637.17 432.36L637.39 432.81L637.62 433.21L637.84 433.56L638.06 433.85L638.28 434.10L638.50 434.31L638.73 434.48L638.95 434.63L639.17 434.75L639.39 434.85L639.62 434.94L639.84 435.01L640.06 435.08L640.29 435.13L640.51 435.18L640.73 435.22L640.95 435.26L641.17 435.29L641.40 435.32L641.62 435.35L641.84 435.37L642.07 435.39L642.29 435.41L642.51 435.43L642.73 435.45L642.95 435.46L643.18 435.48L643.40 435.49L643.62 435.50L643.85 435.52L644.07 435.53L644.29 435.54L644.51 435.54L644.73 435.55L644.96 435.56L645.18 435.57L645.40 435.58L645.62 435.58L645.85 435.59L646.07 435.59L646.29 435.60L646.52 435.60L646.74 435.61L646.96 435.61L647.18 435.62L647.40 435.62L647.63 435.63L647.85 435.63L648.07 435.63L648.30 435.64L648.52 435.64L648.74 435.64L648.96 435.65L649.18 435.65L649.41 435.65L649.63 435.65L649.85 435.66L650.08 435.66L650.30 435.66L650.52 435.66L650.74 435.67L650.96 435.67L651.19 435.67L651.41 435.67L651.63 435.67L651.86 435.68L652.08 435.68L652.30 435.68L652.52 435.68L652.74 435.68L652.97 435.68L653.19 435.69L653.41 435.69L653.63 435.69L653.86 435.69L654.08 435.69L654.30 435.69L654.53 435.69L654.75 435.69L654.97 435.70L655.19 435.70L655.41 435.70L655.64 435.70L655.86 435.70L656.08 435.70L656.31 435.70L656.53 435.70L656.75 435.70L656.97 435.70L657.19 435.71L657.42 435.71L657.64 435.71L657.86 435.71L658.09 435.71L658.31 435.71L658.53 435.71L658.75 435.71L658.97 435.71L659.20 435.71L659.42 435.71L659.64 435.71L659.87 435.71L660.09 435.72L660.31 435.72L660.53 435.72L660.75 435.72L660.98 435.72L661.20 435.72L661.42 435.72L661.64 435.72L661.87 435.72L662.09 435.72L662.31 435.72L662.54 435.72L662.76 435.72L662.98 435.72L663.20 435.72L663.42 435.72L663.65 435.72L663.87 435.73L664.09 435.73L664.32 435.73L664.54 435.73L664.76 435.73L664.98 435.73L665.20 435.73L665.43 435.73L665.65 435.73L665.87 435.73L666.10 435.73L666.32 435.73L666.54 435.73L666.76 435.73L666.98 435.73L667.21 435.73L667.43 435.73L667.65 435.73L667.88 435.73L668.10 435.73L668.32 435.73L668.54 435.73L668.77 435.74L668.99 435.74L669.21 435.74L669.43 435.74L669.65 435.74L669.88 435.74L670.10 435.74L670.32 435.74L670.55 435.74L670.77 435.74L670.99 435.74L671.21 435.74L671.43 435.74L671.66 435.74L671.88 435.74L672.10 435.74L672.33 435.74L672.55 435.74L672.77 435.74L672.99 435.74L673.21 435.74L673.44 435.74L673.66 435.74L673.88 435.74L674.11 435.74L674.33 435.74L674.55 435.74"/>
<path id="bp" d="M118.30 435.61L118.52 435.61L118.75 435.62L118.97 435.62L119.19 435.62L119.41 435.62L119.64 435.63L119.86 435.63L120.08 435.63L120.30 435.64L120.53 435.64L120.75 435.64L120.97 435.65L121.19 435.65L121.42 435.65L121.64 435.66L121.86 435.66L122.08 435.66L122.31 435.67L122.53 435.67L122.75 435.67L122.97 435.67L123.20 435.68L123.42 435.68L123.64 435.68L123.86 435.69L124.09 435.69L124.31 435.69L124.53 435.70L124.75 435.70L124.98 435.70L125.20 435.71L125.42 435.71L125.64 435.71L125.87 435.71L126.09 435.72L126.31 435.72L126.53 435.72L126.76 435.73L126.98 435.73L127.20 435.73L127.42 435.74L127.65 435.74L127.87 435.74L128.09 435.74L128.31 435.75L128.54 435.75L128.76 435.75L128.98 435.76L129.20 435.76L129.43 435.76L129.65 435.77L129.87 435.77L130.09 435.77L130.31 435.77L130.54 435.78L130.76 435.78L130.98 435.78L131.21 435.79L131.43 435.79L131.65 435.79L131.87 435.79L132.09 435.80L132.32 435.80L132.54 435.80L132.76 435.81L132.99 435.81L133.21 435.81L133.43 435.81L133.65 435.82L133.88 435.82L134.10 435.82L134.32 435.83L134.54 435.83L134.77 435.83L134.99 435.83L135.21 435.84L135.43 435.84L135.66 435.84L135.88 435.85L136.10 435.85L136.32 435.85L136.55 435.85L136.77 435.86L136.99 435.86L137.21 435.86L137.44 435.87L137.66 435.87L137.88 435.87L138.10 435.87L138.33 435.88L138.55 435.88L138.77 435.88L138.99 435.88L139.22 435.89L139.44 435.89L139.66 435.89L139.88 435.90L140.11 435.90L140.33 435.90L140.55 435.90L140.77 435.91L141.00 435.91L141.22 435.91L141.44 435.91L141.66 435.92L141.89 435.92L142.11 435.92L142.33 435.92L142.55 435.93L142.78 435.93L143.00 435.93L143.22 435.94L143.44 435.94L143.67 435.94L143.89 435.94L144.11 435.95L144.33 435.95L144.56 435.95L144.78 435.95L145.00 435.96L145.22 435.96L145.45 435.96L145.67 435.96L145.89 435.97L146.11 435.97L146.34 435.97L146.56 435.97L146.78 435.98L147.00 435.98L147.23 435.98L147.45 435.98L147.67 435.99L147.89 435.99L148.12 435.99L148.34 435.99L148.56 436.00L148.78 436.00L149.01 436.00L149.23 436.00L149.45 436.01L149.67 436.01L149.90 436.01L150.12 436.01L150.34 436.02L150.56 436.02L150.79 436.02L151.01 436.02L151.23 436.03L151.45 436.03L151.68 436.03L151.90 436.03L152.12 436.04L152.34 436.04L152.56 436.04L152.79 436.04L153.01 436.05L153.23 436.05L153.46 436.05L153.68 436.05L153.90 436.05L154.12 436.06L154.35 436.06L154.57 436.06L154.79 436.06L155.01 436.07L155.24 436.07L155.46 436.07L155.68 436.07L155.90 436.08L156.12 436.08L156.35 436.08L156.57 436.08L156.79 436.09L157.02 436.09L157.24 436.09L157.46 436.09L157.68 436.09L157.91 436.10L158.13 436.10L158.35 436.10L158.57 436.10L158.80 436.11L159.02 436.11L159.24 436.11L159.46 436.11L159.69 436.11L159.91 436.12L160.13 436.12L160.35 436.12L160.58 436.12L160.80 436.12L161.02 436.13L161.24 436.13L161.47 436.13L161.69 436.13L161.91 436.14L162.13 436.14L162.36 436.14L162.58 436.14L162.80 436.14L163.02 436.15L163.25 436.15L163.47 436.15L163.69 436.15L163.91 436.15L164.14 436.16L164.36 436.16L164.58 436.16L164.80 436.16L165.03 436.16L165.25 436.17L165.47 436.17L165.69 436.17L165.92 436.17L166.14 436.17L166.36 436.18L166.58 436.18L166.81 436.18L167.03 436.18L167.25 436.18L167.47 436.18L167.70 436.19L167.92 436.19L168.14 436.19L168.36 436.19L168.59 436.19L168.81 436.19L169.03 436.20L169.25 436.20L169.48 436.20L169.70 436.20L169.92 436.20L170.14 436.20L170.37 436.21L170.59 436.21L170.81 436.21L171.03 436.21L171.25 436.21L171.48 436.21L171.70 436.21L171.92 436.22L172.15 436.22L172.37 436.22L172.59 436.22L172.81 436.22L173.04 436.22L173.26 436.22L173.48 436.22L173.70 436.22L173.93 436.22L174.15 436.22L174.37 436.23L174.59 436.23L174.81 436.23L175.04 436.23L175.26 436.23L175.48 436.23L175.71 436.22L175.93 436.22L176.15 436.22L176.37 436.22L176.60 436.22L176.82 436.22L177.04 436.22L177.26 436.21L177.49 436.21L177.71 436.21L177.93 436.20L178.15 436.19L178.38 436.19L178.60 436.18L178.82 436.16L179.04 436.15L179.27 436.13L179.49 436.11L179.71 436.08L179.93 436.05L180.16 436.00L180.38 435.95L180.60 435.88L180.82 435.81L181.05 435.72L181.27 435.63L181.49 435.54L181.71 435.48L181.94 435.46L182.16 435.48L182.38 435.55L182.60 435.63L182.83 435.73L183.05 435.82L183.27 435.89L183.49 435.96L183.72 436.02L183.94 436.06L184.16 436.10L184.38 436.13L184.61 436.15L184.83 436.17L185.05 436.19L185.27 436.20L185.50 436.22L185.72 436.22L185.94 436.23L186.16 436.24L186.38 436.25L186.61 436.25L186.83 436.26L187.05 436.26L187.28 436.26L187.50 436.27L187.72 436.27L187.94 436.27L188.17 436.27L188.39 436.27L188.61 436.28L188.83 436.28L189.06 436.28L189.28 436.28L189.50 436.28L189.72 436.28L189.94 436.28L190.17 436.28L190.39 436.28L190.61 436.28L190.84 436.28L191.06 436.28L191.28 436.28L191.50 436.28L191.73 436.28L191.95 436.27L192.17 436.27L192.39 436.27L192.62 436.27L192.84 436.27L193.06 436.26L193.28 436.26L193.50 436.26L193.73 436.26L193.95 436.25L194.17 436.25L194.40 436.25L194.62 436.24L194.84 436.24L195.06 436.23L195.29 436.23L195.51 436.23L195.73 436.22L195.95 436.21L196.18 436.21L196.40 436.20L196.62 436.20L196.84 436.19L197.06 436.18L197.29 436.17L197.51 436.17L197.73 436.16L197.95 436.15L198.18 436.14L198.40 436.13L198.62 436.11L198.85 436.10L199.07 436.09L199.29 436.08L199.51 436.06L199.74 436.05L199.96 436.03L200.18 436.01L200.40 435.99L200.62 435.97L200.85 435.95L201.07 435.93L201.29 435.90L201.52 435.88L201.74 435.85L201.96 435.82L202.18 435.78L202.41 435.75L202.63 435.71L202.85 435.67L203.07 435.62L203.30 435.57L203.52 435.52L203.74 435.46L203.96 435.40L204.19 435.33L204.41 435.25L204.63 435.17L204.85 435.08L205.07 434.97L205.30 434.86L205.52 434.73L205.74 434.59L205.97 434.43L206.19 434.25L206.41 434.05L206.63 433.82L206.86 433.55L207.08 433.22L207.30 432.82L207.52 432.29L207.75 431.53L207.97 430.39L208.19 428.59L208.41 425.68L208.64 421.01L208.86 413.68L209.08 402.58L209.30 386.52L209.53 364.41L209.75 335.64L209.97 300.41L210.19 260.06L210.42 217.26L210.64 175.91L210.86 140.84L211.08 117.07L211.31 108.62L211.53 117.08L211.75 140.85L211.97 175.92L212.19 217.27L212.42 260.07L212.64 300.43L212.86 335.66L213.08 364.44L213.31 386.55L213.53 402.61L213.75 413.71L213.98 421.05L214.20 425.72L214.42 428.63L214.64 430.44L214.87 431.58L215.09 432.34L215.31 432.88L215.53 433.29L215.75 433.61L215.98 433.89L216.20 434.12L216.42 434.33L216.65 434.51L216.87 434.67L217.09 434.82L217.31 434.95L217.54 435.06L217.76 435.17L217.98 435.27L218.20 435.35L218.43 435.43L218.65 435.50L218.87 435.57L219.09 435.63L219.31 435.69L219.54 435.74L219.76 435.79L219.98 435.83L220.20 435.88L220.43 435.91L220.65 435.95L220.87 435.98L221.10 436.02L221.32 436.04L221.54 436.07L221.76 436.10L221.99 436.12L222.21 436.15L222.43 436.17L222.65 436.19L222.88 436.21L223.10 436.22L223.32 436.24L223.54 436.26L223.77 436.27L223.99 436.29L224.21 436.30L224.43 436.31L224.66 436.32L224.88 436.34L225.10 436.35L225.32 436.36L225.55 436.36L225.77 436.37L225.99 436.38L226.21 436.39L226.44 436.39L226.66 436.40L226.88 436.40L227.10 436.40L227.32 436.41L227.55 436.41L227.77 436.41L227.99 436.40L228.22 436.40L228.44 436.39L228.66 436.38L228.88 436.37L229.11 436.36L229.33 436.33L229.55 436.31L229.77 436.27L230.00 436.22L230.22 436.16L230.44 436.09L230.66 435.99L230.89 435.89L231.11 435.76L231.33 435.63L231.55 435.51L231.78 435.42L232.00 435.39L232.22 435.43L232.44 435.53L232.67 435.66L232.89 435.80L233.11 435.93L233.33 436.05L233.56 436.15L233.78 436.24L234.00 436.31L234.22 436.36L234.44 436.41L234.67 436.45L234.89 436.48L235.11 436.51L235.33 436.53L235.56 436.55L235.78 436.57L236.00 436.58L236.23 436.59L236.45 436.61L236.67 436.62L236.89 436.63L237.12 436.63L237.34 436.64L237.56 436.65L237.78 436.66L238.00 436.66L238.23 436.67L238.45 436.68L238.67 436.68L238.90 436.69L239.12 436.69L239.34 436.70L239.56 436.70L239.79 436.71L240.01 436.71L240.23 436.71L240.45 436.72L240.68 436.72L240.90 436.72L241.12 436.73L241.34 436.73L241.56 436.74L241.79 436.74L242.01 436.74L242.23 436.74L242.45 436.75L242.68 436.75L242.90 436.75L243.12 436.76L243.35 436.76L243.57 436.76L243.79 436.76L244.01 436.77L244.24 436.77L244.46 436.77L244.68 436.78L244.90 436.78L245.12 436.78L245.35 436.78L245.57 436.79L245.79 436.79L246.02 436.79L246.24 436.79L246.46 436.79L246.68 436.80L246.91 436.80L247.13 436.80L247.35 436.80L247.57 436.81L247.80 436.81L248.02 436.81L248.24 436.81L248.46 436.81L248.69 436.82L248.91 436.82L249.13 436.82L249.35 436.82L249.57 436.82L249.80 436.83L250.02 436.83L250.24 436.83L250.47 436.83L250.69 436.83L250.91 436.84L251.13 436.84L251.36 436.84L251.58 436.84L251.80 436.84L252.02 436.84L252.25 436.85L252.47 436.85L252.69 436.85L252.91 436.85L253.14 436.85L253.36 436.85L253.58 436.86L253.80 436.86L254.03 436.86L254.25 436.86L254.47 436.86L254.69 436.87L254.92 436.87L255.14 436.87L255.36 436.87L255.58 436.87L255.81 436.87L256.03 436.88L256.25 436.88L256.47 436.88L256.69 436.88L256.92 436.88L257.14 436.88L257.36 436.88L257.58 436.89L257.81 436.89L258.03 436.89L258.25 436.89L258.48 436.89L258.70 436.89L258.92 436.90L259.14 436.90L259.37 436.90L259.59 436.90L259.81 436.90L260.03 436.90L260.25 436.90L260.48 436.91L260.70 436.91L260.92 436.91L261.15 436.91L261.37 436.91L261.59 436.91L261.81 436.92L262.04 436.92L262.26 436.92L262.48 436.92L262.70 436.92L262.93 436.92L263.15 436.92L263.37 436.93L263.59 436.93L263.81 436.93L264.04 436.93L264.26 436.93L264.48 436.93L264.70 436.93L264.93 436.93L265.15 436.94L265.37 436.94L265.60 436.94L265.82 436.94L266.04 436.94L266.26 436.94L266.49 436.94L266.71 436.95L266.93 436.95L267.15 436.95L267.38 436.95L267.60 436.95L267.82 436.95L268.04 436.95L268.27 436.96L268.49 436.96L268.71 436.96L268.93 436.96L269.16 436.96L269.38 436.96L269.60 436.96L269.82 436.96L270.05 436.97L270.27 436.97L270.49 436.97L270.71 436.97L270.94 436.97L271.16 436.97L271.38 436.97L271.60 436.97L271.82 436.98L272.05 436.98L272.27 436.98L272.49 436.98L272.72 436.98L272.94 436.98L273.16 436.98L273.38 436.98L273.61 436.99L273.83 436.99L274.05 436.99L274.27 436.99L274.50 436.99L274.72 436.99L274.94 436.99L275.16 436.99L275.39 437.00L275.61 437.00L275.83 437.00L276.05 437.00L276.28 437.00L276.50 437.00L276.72 437.00L276.94 437.00L277.17 437.01L277.39 437.01L277.61 437.01L277.83 437.01L278.06 437.01L278.28 437.01L278.50 437.01L278.72 437.01L278.94 437.01L279.17 437.02L279.39 437.02L279.61 437.02L279.83 437.02L280.06 437.02L280.28 437.02L280.50 437.02L280.73 437.02L280.95 437.03L281.17 437.03L281.39 437.03L281.62 437.03L281.84 437.03L282.06 437.03L282.28 437.03L282.50 437.03L282.73 437.03L282.95 437.04L283.17 437.04L283.40 437.04L283.62 437.04L283.84 437.04L284.06 437.04L284.29 437.04L284.51 437.04L284.73 437.04L284.95 437.05L285.18 437.05L285.40 437.05L285.62 437.05L285.84 437.05L286.06 437.05L286.29 437.05L286.51 437.05L286.73 437.05L286.95 437.06L287.18 437.06L287.40 437.06L287.62 437.06L287.85 437.06L288.07 437.06L288.29 437.06L288.51 437.06L288.74 437.06L288.96 437.06L289.18 437.07L289.40 437.07L289.62 437.07L289.85 437.07L290.07 437.07L290.29 437.07L290.52 437.07L290.74 437.07L290.96 437.07L291.18 437.08L291.41 437.08L291.63 437.08L291.85 437.08L292.07 437.08L292.30 437.08L292.52 437.08L292.74 437.08L292.96 437.08L293.19 437.08L293.41 437.09L293.63 437.09L293.85 437.09L294.07 437.09L294.30 437.09L294.52 437.09L294.74 437.09L294.97 437.09L295.19 437.09L295.41 437.09L295.63 437.10L295.86 437.10L296.08 437.10L296.30 437.10L296.52 437.10L296.75 437.10L296.97 437.10L297.19 437.10L297.41 437.10L297.64 437.10L297.86 437.11L298.08 437.11L298.30 437.11L298.53 437.11L298.75 437.11L298.97 437.11L299.19 437.11L299.42 437.11L299.64 437.11L299.86 437.11L300.08 437.12L300.31 437.12L300.53 437.12L300.75 437.12L300.97 437.12L301.19 437.12L301.42 437.12L301.64 437.12L301.86 437.12L302.08 437.12L302.31 437.12L302.53 437.13L302.75 437.13L302.98 437.13L303.20 437.13L303.42 437.13L303.64 437.13L303.87 437.13L304.09 437.13L304.31 437.13L304.53 437.13L304.76 437.14L304.98 437.14L305.20 437.14L305.42 437.14L305.65 437.14L305.87 437.14L306.09 437.14L306.31 437.14L306.54 437.14L306.76 437.14L306.98 437.14L307.20 437.15L307.43 437.15L307.65 437.15L307.87 437.15L308.09 437.15L308.31 437.15L308.54 437.15L308.76 437.15L308.98 437.15L309.20 437.15L309.43 437.15L309.65 437.16L309.87 437.16L310.10 437.16L310.32 437.16L310.54 437.16L310.76 437.16L310.99 437.16L311.21 437.16L311.43 437.16L311.65 437.16L311.88 437.16L312.10 437.16L312.32 437.17L312.54 437.17L312.77 437.17L312.99 437.17L313.21 437.17L313.43 437.17L313.66 437.17L313.88 437.17L314.10 437.17L314.32 437.17L314.55 437.17L314.77 437.18L314.99 437.18L315.21 437.18L315.44 437.18L315.66 437.18L315.88 437.18L316.10 437.18L316.32 437.18L316.55 437.18L316.77 437.18L316.99 437.18L317.21 437.18L317.44 437.19L317.66 437.19L317.88 437.19L318.11 437.19L318.33 437.19L318.55 437.19L318.77 437.19L319.00 437.19L319.22 437.19L319.44 437.19L319.66 437.19L319.89 437.19L320.11 437.20L320.33 437.20L320.55 437.20L320.78 437.20L321.00 437.20L321.22 437.20L321.44 437.20L321.67 437.20L321.89 437.20L322.11 437.20L322.33 437.20L322.56 437.20L322.78 437.21L323.00 437.21L323.22 437.21L323.44 437.21L323.67 437.21L323.89 437.21L324.11 437.21L324.33 437.21L324.56 437.21L324.78 437.21L325.00 437.21L325.23 437.21L325.45 437.21L325.67 437.22L325.89 437.22L326.12 437.22L326.34 437.22L326.56 437.22L326.78 437.22L327.01 437.22L327.23 437.22L327.45 437.22L327.67 437.22L327.90 437.22L328.12 437.22L328.34 437.22L328.56 437.23L328.79 437.23L329.01 437.23L329.23 437.23L329.45 437.23L329.68 437.23L329.90 437.23L330.12 437.23L330.34 437.23L330.56 437.23L330.79 437.23L331.01 437.23L331.23 437.23L331.45 437.24L331.68 437.24L331.90 437.24L332.12 437.24L332.35 437.24L332.57 437.24L332.79 437.24L333.01 437.24L333.24 437.24L333.46 437.24L333.68 437.24L333.90 437.24L334.13 437.24L334.35 437.25L334.57 437.25L334.79 437.25L335.02 437.25L335.24 437.25L335.46 437.25L335.68 437.25L335.91 437.25L336.13 437.25L336.35 437.25L336.57 437.25L336.80 437.25L337.02 437.25L337.24 437.25L337.46 437.26L337.69 437.26L337.91 437.26L338.13 437.26L338.35 437.26L338.57 437.26L338.80 437.26L339.02 437.26L339.24 437.26L339.46 437.26L339.69 437.26L339.91 437.26L340.13 437.26L340.36 437.26L340.58 437.26L340.80 437.27L341.02 437.27L341.25 437.27L341.47 437.27L341.69 437.27L341.91 437.27L342.14 437.27L342.36 437.27L342.58 437.27L342.80 437.27L343.03 437.27L343.25 437.27L343.47 437.27L343.69 437.27L343.92 437.27L344.14 437.28L344.36 437.28L344.58 437.28L344.81 437.28L345.03 437.28L345.25 437.28L345.47 437.28L345.69 437.28L345.92 437.28L346.14 437.28L346.36 437.28L346.58 437.28L346.81 437.28L347.03 437.28L347.25 437.28L347.48 437.28L347.70 437.28L347.92 437.28L348.14 437.28L348.37 437.29L348.59 437.29L348.81 437.29L349.03 437.29L349.26 437.29L349.48 437.29L349.70 437.29L349.92 437.29L350.15 437.29L350.37 437.29L350.59 437.29L350.81 437.29L351.04 437.29L351.26 437.29L351.48 437.29L351.70 437.29L351.93 437.29L352.15 437.29L352.37 437.29L352.59 437.29L352.81 437.29L353.04 437.28L353.26 437.28L353.48 437.28L353.70 437.28L353.93 437.28L354.15 437.27L354.37 437.27L354.60 437.27L354.82 437.26L355.04 437.25L355.26 437.24L355.49 437.23L355.71 437.22L355.93 437.20L356.15 437.18L356.38 437.17L356.60 437.15L356.82 437.13L357.04 437.11L357.27 437.10L357.49 437.10L357.71 437.10L357.93 437.11L358.16 437.13L358.38 437.15L358.60 437.17L358.82 437.19L359.05 437.21L359.27 437.23L359.49 437.24L359.71 437.25L359.94 437.27L360.16 437.27L360.38 437.28L360.60 437.29L360.82 437.29L361.05 437.30L361.27 437.30L361.49 437.30L361.71 437.31L361.94 437.31L362.16 437.31L362.38 437.31L362.61 437.32L362.83 437.32L363.05 437.32L363.27 437.32L363.50 437.32L363.72 437.32L363.94 437.33L364.16 437.33L364.39 437.33L364.61 437.33L364.83 437.33L365.05 437.33L365.28 437.33L365.50 437.33L365.72 437.33L365.94 437.33L366.17 437.34L366.39 437.34L366.61 437.34L366.83 437.34L367.06 437.34L367.28 437.34L367.50 437.34L367.72 437.34L367.94 437.34L368.17 437.34L368.39 437.34L368.61 437.34L368.83 437.34L369.06 437.35L369.28 437.35L369.50 437.35L369.73 437.35L369.95 437.35L370.17 437.35L370.39 437.35L370.62 437.35L370.84 437.35L371.06 437.35L371.28 437.35L371.51 437.35L371.73 437.35L371.95 437.35L372.17 437.35L372.40 437.36L372.62 437.36L372.84 437.36L373.06 437.36L373.29 437.36L373.51 437.36L373.73 437.36L373.95 437.36L374.18 437.36L374.40 437.36L374.62 437.36L374.84 437.36L375.06 437.36L375.29 437.36L375.51 437.36L375.73 437.36L375.95 437.36L376.18 437.37L376.40 437.37L376.62 437.37L376.85 437.37L377.07 437.37L377.29 437.37L377.51 437.37L377.74 437.37L377.96 437.37L378.18 437.37L378.40 437.37L378.63 437.37L378.85 437.37L379.07 437.37L379.29 437.37L379.52 437.37L379.74 437.37L379.96 437.37L380.18 437.38L380.41 437.38L380.63 437.38L380.85 437.38L381.07 437.38L381.30 437.38L381.52 437.38L381.74 437.38L381.96 437.38L382.19 437.38L382.41 437.38L382.63 437.38L382.85 437.38L383.07 437.38L383.30 437.38L383.52 437.38L383.74 437.38L383.96 437.38L384.19 437.39L384.41 437.39L384.63 437.39L384.86 437.39L385.08 437.39L385.30 437.39L385.52 437.39L385.75 437.39L385.97 437.39L386.19 437.39L386.41 437.39L386.64 437.39L386.86 437.39L387.08 437.39L387.30 437.39L387.53 437.39L387.75 437.39L387.97 437.39L388.19 437.39L388.42 437.40L388.64 437.40L388.86 437.40L389.08 437.40L389.31 437.40L389.53 437.40L389.75 437.40L389.97 437.40L390.19 437.40L390.42 437.40L390.64 437.40L390.86 437.40L391.08 437.40L391.31 437.40L391.53 437.40L391.75 437.40L391.98 437.40L392.20 437.40L392.42 437.40L392.64 437.40L392.87 437.41L393.09 437.41L393.31 437.41L393.53 437.41L393.76 437.41L393.98 437.41L394.20 437.41L394.42 437.41L394.65 437.41L394.87 437.41L395.09 437.41L395.31 437.41L395.54 437.41L395.76 437.41L395.98 437.41L396.20 437.41L396.43 437.41L396.65 437.41L396.87 437.41L397.09 437.41L397.31 437.41L397.54 437.42L397.76 437.42L397.98 437.42L398.20 437.42L398.43 437.42L398.65 437.42L398.87 437.42L399.10 437.42L399.32 437.42L399.54 437.42L399.76 437.42L399.99 437.42L400.21 437.42L400.43 437.42L400.65 437.42L400.88 437.42L401.10 437.42L401.32 437.42L401.54 437.42L401.77 437.42L401.99 437.42L402.21 437.43L402.43 437.43L402.66 437.43L402.88 437.43L403.10 437.43L403.32 437.43L403.55 437.43L403.77 437.43L403.99 437.43L404.21 437.43L404.44 437.43L404.66 437.43L404.88 437.43L405.10 437.43L405.32 437.43L405.55 437.43L405.77 437.43L405.99 437.43L406.21 437.43L406.44 437.43L406.66 437.43L406.88 437.43L407.11 437.43L407.33 437.44L407.55 437.44L407.77 437.44L408.00 437.44L408.22 437.44L408.44 437.44L408.66 437.44L408.89 437.44L409.11 437.44L409.33 437.44L409.55 437.44L409.78 437.44L410.00 437.44L410.22 437.44L410.44 437.44L410.67 437.44L410.89 437.44L411.11 437.44L411.33 437.44L411.56 437.44L411.78 437.44L412.00 437.44L412.22 437.44L412.44 437.45L412.67 437.45L412.89 437.45L413.11 437.45L413.33 437.45L413.56 437.45L413.78 437.45L414.00 437.45L414.23 437.45L414.45 437.45L414.67 437.45L414.89 437.45L415.12 437.45L415.34 437.45L415.56 437.45L415.78 437.45L416.01 437.45L416.23 437.45L416.45 437.45L416.67 437.45L416.90 437.45L417.12 437.45L417.34 437.45L417.56 437.45L417.79 437.46L418.01 437.46L418.23 437.46L418.45 437.46L418.68 437.46L418.90 437.46L419.12 437.46L419.34 437.46L419.56 437.46L419.79 437.46L420.01 437.46L420.23 437.46L420.45 437.46L420.68 437.46L420.90 437.46L421.12 437.46L421.35 437.46L421.57 437.46L421.79 437.46L422.01 437.46L422.24 437.46L422.46 437.46L422.68 437.46L422.90 437.46L423.13 437.46L423.35 437.47L423.57 437.47L423.79 437.47L424.02 437.47L424.24 437.47L424.46 437.47L424.68 437.47L424.91 437.47L425.13 437.47L425.35 437.47L425.57 437.47L425.80 437.47L426.02 437.47L426.24 437.47L426.46 437.47L426.69 437.47L426.91 437.47L427.13 437.47L427.35 437.47L427.57 437.47L427.80 437.47L428.02 437.47L428.24 437.47L428.46 437.47L428.69 437.47L428.91 437.47L429.13 437.48L429.36 437.48L429.58 437.48L429.80 437.48L430.02 437.48L430.25 437.48L430.47 437.48L430.69 437.48L430.91 437.48L431.14 437.48L431.36 437.48L431.58 437.48L431.80 437.48L432.03 437.48L432.25 437.48L432.47 437.48L432.69 437.48L432.92 437.48L433.14 437.48L433.36 437.48L433.58 437.48L433.81 437.48L434.03 437.48L434.25 437.48L434.47 437.48L434.69 437.48L434.92 437.48L435.14 437.48L435.36 437.48L435.58 437.49L435.81 437.49L436.03 437.49L436.25 437.49L436.48 437.49L436.70 437.49L436.92 437.49L437.14 437.49L437.37 437.49L437.59 437.49L437.81 437.49L438.03 437.49L438.26 437.49L438.48 437.49L438.70 437.49L438.92 437.49L439.15 437.49L439.37 437.49L439.59 437.49L439.81 437.49L440.04 437.49L440.26 437.49L440.48 437.49L440.70 437.49L440.93 437.49L441.15 437.49L441.37 437.49L441.59 437.49L441.81 437.49L442.04 437.49L442.26 437.49L442.48 437.49L442.70 437.49L442.93 437.50L443.15 437.50L443.37 437.50L443.60 437.50L443.82 437.50L444.04 437.50L444.26 437.50L444.49 437.50L444.71 437.50L444.93 437.50L445.15 437.50L445.38 437.50L445.60 437.50L445.82 437.50L446.04 437.50L446.27 437.50L446.49 437.50L446.71 437.50L446.93 437.50L447.16 437.50L447.38 437.50L447.60 437.50L447.82 437.50L448.05 437.50L448.27 437.50L448.49 437.50L448.71 437.50L448.94 437.50L449.16 437.50L449.38 437.50L449.60 437.50L449.82 437.50L450.05 437.50L450.27 437.50L450.49 437.50L450.71 437.50L450.94 437.50L451.16 437.50L451.38 437.50L451.61 437.49L451.83 437.49L452.05 437.49L452.27 437.49L452.50 437.49L452.72 437.49L452.94 437.49L453.16 437.49L453.39 437.48L453.61 437.48L453.83 437.48L454.05 437.48L454.28 437.47L454.50 437.47L454.72 437.46L454.94 437.45L455.17 437.44L455.39 437.43L455.61 437.42L455.83 437.40L456.06 437.38L456.28 437.36L456.50 437.33L456.72 437.30L456.94 437.26L457.17 437.22L457.39 437.17L457.61 437.13L457.83 437.10L458.06 437.08L458.28 437.08L458.50 437.10L458.73 437.13L458.95 437.17L459.17 437.22L459.39 437.26L459.62 437.30L459.84 437.33L460.06 437.36L460.28 437.39L460.51 437.41L460.73 437.43L460.95 437.44L461.17 437.45L461.40 437.46L461.62 437.47L461.84 437.48L462.06 437.48L462.29 437.49L462.51 437.49L462.73 437.49L462.95 437.50L463.18 437.50L463.40 437.50L463.62 437.50L463.84 437.51L464.06 437.51L464.29 437.51L464.51 437.51L464.73 437.51L464.95 437.51L465.18 437.52L465.40 437.52L465.62 437.52L465.85 437.52L466.07 437.52L466.29 437.52L466.51 437.52L466.74 437.52L466.96 437.52L467.18 437.52L467.40 437.52L467.63 437.52L467.85 437.53L468.07 437.53L468.29 437.53L468.52 437.53L468.74 437.53L468.96 437.53L469.18 437.53L469.41 437.53L469.63 437.53L469.85 437.53L470.07 437.53L470.30 437.53L470.52 437.53L470.74 437.53L470.96 437.53L471.19 437.53L471.41 437.53L471.63 437.53L471.85 437.53L472.07 437.53L472.30 437.54L472.52 437.54L472.74 437.54L472.96 437.54L473.19 437.54L473.41 437.54L473.63 437.54L473.86 437.54L474.08 437.54L474.30 437.54L474.52 437.54L474.75 437.54L474.97 437.54L475.19 437.54L475.41 437.54L475.63 437.54L475.86 437.54L476.08 437.54L476.30 437.54L476.53 437.54L476.75 437.54L476.97 437.54L477.19 437.54L477.42 437.54L477.64 437.54L477.86 437.54L478.08 437.54L478.31 437.54L478.53 437.54L478.75 437.54L478.97 437.55L479.19 437.55L479.42 437.55L479.64 437.55L479.86 437.55L480.09 437.55L480.31 437.55L480.53 437.55L480.75 437.55L480.98 437.55L481.20 437.55L481.42 437.55L481.64 437.55L481.87 437.55L482.09 437.55L482.31 437.55L482.53 437.55L482.75 437.55L482.98 437.55L483.20 437.55L483.42 437.55L483.65 437.55L483.87 437.55L484.09 437.55L484.31 437.55L484.54 437.55L484.76 437.55L484.98 437.55L485.20 437.55L485.43 437.55L485.65 437.55L485.87 437.55L486.09 437.55L486.31 437.55L486.54 437.55L486.76 437.55L486.98 437.55L487.21 437.55L487.43 437.56L487.65 437.56L487.87 437.56L488.10 437.56L488.32 437.56L488.54 437.56L488.76 437.56L488.99 437.56L489.21 437.56L489.43 437.56L489.65 437.56L489.88 437.56L490.10 437.56L490.32 437.56L490.54 437.56L490.77 437.56L490.99 437.56L491.21 437.56L491.43 437.56L491.66 437.56L491.88 437.56L492.10 437.56L492.32 437.56L492.55 437.56L492.77 437.56L492.99 437.56L493.21 437.56L493.44 437.56L493.66 437.56L493.88 437.56L494.10 437.56L494.32 437.56L494.55 437.56L494.77 437.56L494.99 437.56L495.22 437.56L495.44 437.56L495.66 437.56L495.88 437.56L496.11 437.56L496.33 437.56L496.55 437.56L496.77 437.56L497.00 437.56L497.22 437.57L497.44 437.57L497.66 437.57L497.88 437.57L498.11 437.57L498.33 437.57L498.55 437.57L498.78 437.57L499.00 437.57L499.22 437.57L499.44 437.57L499.67 437.57L499.89 437.57L500.11 437.57L500.33 437.57L500.56 437.57L500.78 437.57L501.00 437.57L501.22 437.57L501.44 437.57L501.67 437.57L501.89 437.57L502.11 437.57L502.34 437.57L502.56 437.57L502.78 437.57L503.00 437.57L503.23 437.57L503.45 437.57L503.67 437.57L503.89 437.57L504.12 437.57L504.34 437.57L504.56 437.57L504.78 437.57L505.00 437.57L505.23 437.57L505.45 437.57L505.67 437.57L505.90 437.57L506.12 437.57L506.34 437.57L506.56 437.57L506.79 437.57L507.01 437.57L507.23 437.57L507.45 437.57L507.68 437.57L507.90 437.57L508.12 437.57L508.34 437.57L508.56 437.57L508.79 437.57L509.01 437.57L509.23 437.57L509.46 437.57L509.68 437.57L509.90 437.57L510.12 437.57L510.35 437.57L510.57 437.57L510.79 437.57L511.01 437.57L511.24 437.57L511.46 437.57L511.68 437.57L511.90 437.57L512.12 437.57L512.35 437.57L512.57 437.57L512.79 437.57L513.02 437.57L513.24 437.57L513.46 437.57L513.68 437.57L513.90 437.57L514.13 437.57L514.35 437.57L514.57 437.57L514.80 437.57L515.02 437.57L515.24 437.57L515.46 437.57L515.68 437.57L515.91 437.57L516.13 437.57L516.35 437.57L516.58 437.57L516.80 437.57L517.02 437.57L517.24 437.56L517.47 437.56L517.69 437.56L517.91 437.56L518.13 437.56L518.36 437.56L518.58 437.56L518.80 437.56L519.02 437.56L519.25 437.56L519.47 437.55L519.69 437.55L519.91 437.55L520.13 437.55L520.36 437.55L520.58 437.54L520.80 437.54L521.03 437.54L521.25 437.54L521.47 437.53L521.69 437.53L521.91 437.53L522.14 437.52L522.36 437.52L522.58 437.51L522.81 437.50L523.03 437.50L523.25 437.49L523.47 437.48L523.69 437.47L523.92 437.46L524.14 437.44L524.36 437.43L524.59 437.41L524.81 437.39L525.03 437.36L525.25 437.33L525.48 437.29L525.70 437.24L525.92 437.19L526.14 437.13L526.37 437.06L526.59 436.98L526.81 436.89L527.03 436.80L527.25 436.71L527.48 436.61L527.70 436.53L527.92 436.47L528.14 436.44L528.37 436.44L528.59 436.47L528.81 436.53L529.04 436.62L529.26 436.71L529.48 436.80L529.70 436.90L529.92 436.98L530.15 437.06L530.37 437.13L530.59 437.19L530.82 437.25L531.04 437.29L531.26 437.33L531.48 437.36L531.71 437.39L531.93 437.41L532.15 437.43L532.37 437.45L532.60 437.47L532.82 437.48L533.04 437.49L533.26 437.50L533.49 437.51L533.71 437.51L533.93 437.52L534.15 437.53L534.38 437.53L534.60 437.54L534.82 437.54L535.04 437.54L535.27 437.55L535.49 437.55L535.71 437.55L535.93 437.56L536.15 437.56L536.38 437.56L536.60 437.56L536.82 437.57L537.05 437.57L537.27 437.57L537.49 437.57L537.71 437.57L537.93 437.57L538.16 437.58L538.38 437.58L538.60 437.58L538.83 437.58L539.05 437.58L539.27 437.58L539.49 437.58L539.72 437.58L539.94 437.58L540.16 437.59L540.38 437.59L540.61 437.59L540.83 437.59L541.05 437.59L541.27 437.59L541.49 437.59L541.72 437.59L541.94 437.59L542.16 437.59L542.38 437.59L542.61 437.59L542.83 437.59L543.05 437.59L543.28 437.59L543.50 437.60L543.72 437.60L543.94 437.60L544.16 437.60L544.39 437.60L544.61 437.60L544.83 437.60L545.06 437.60L545.28 437.60L545.50 437.60L545.72 437.60L545.94 437.60L546.17 437.60L546.39 437.60L546.61 437.60L546.84 437.60L547.06 437.60L547.28 437.60L547.50 437.60L547.72 437.60L547.95 437.60L548.17 437.60L548.39 437.60L548.62 437.60L548.84 437.60L549.06 437.60L549.28 437.60L549.50 437.60L549.73 437.60L549.95 437.60L550.17 437.60L550.39 437.60L550.62 437.60L550.84 437.60L551.06 437.61L551.29 437.61L551.51 437.61L551.73 437.61L551.95 437.61L552.17 437.61L552.40 437.61L552.62 437.61L552.84 437.61L553.07 437.61L553.29 437.61L553.51 437.61L553.73 437.61L553.95 437.61L554.18 437.61L554.40 437.61L554.62 437.61L554.85 437.61L555.07 437.61L555.29 437.61L555.51 437.61L555.73 437.61L555.96 437.61L556.18 437.61L556.40 437.61L556.62 437.61L556.85 437.61L557.07 437.60L557.29 437.60L557.52 437.60L557.74 437.60L557.96 437.60L558.18 437.60L558.40 437.60L558.63 437.60L558.85 437.60L559.07 437.60L559.30 437.60L559.52 437.60L559.74 437.60L559.96 437.60L560.18 437.60L560.41 437.60L560.63 437.60L560.85 437.59L561.08 437.59L561.30 437.59L561.52 437.59L561.74 437.59L561.96 437.58L562.19 437.58L562.41 437.58L562.63 437.57L562.86 437.57L563.08 437.56L563.30 437.56L563.52 437.55L563.74 437.54L563.97 437.53L564.19 437.52L564.41 437.51L564.63 437.49L564.86 437.47L565.08 437.46L565.30 437.44L565.53 437.41L565.75 437.39L565.97 437.37L566.19 437.35L566.41 437.32L566.64 437.31L566.86 437.29L567.08 437.29L567.31 437.29L567.53 437.29L567.75 437.31L567.97 437.32L568.19 437.35L568.42 437.37L568.64 437.39L568.86 437.41L569.09 437.44L569.31 437.46L569.53 437.48L569.75 437.49L569.97 437.51L570.20 437.52L570.42 437.53L570.64 437.54L570.87 437.55L571.09 437.56L571.31 437.57L571.53 437.57L571.75 437.57L571.98 437.58L572.20 437.58L572.42 437.58L572.64 437.59L572.87 437.59L573.09 437.59L573.31 437.59L573.54 437.59L573.76 437.59L573.98 437.60L574.20 437.60L574.42 437.60L574.65 437.60L574.87 437.60L575.09 437.60L575.32 437.60L575.54 437.60L575.76 437.60L575.98 437.60L576.20 437.60L576.43 437.60L576.65 437.60L576.87 437.60L577.10 437.60L577.32 437.60L577.54 437.60L577.76 437.59L577.98 437.59L578.21 437.59L578.43 437.59L578.65 437.59L578.88 437.59L579.10 437.58L579.32 437.58L579.54 437.58L579.77 437.57L579.99 437.57L580.21 437.56L580.43 437.56L580.65 437.55L580.88 437.54L581.10 437.53L581.32 437.52L581.55 437.50L581.77 437.48L581.99 437.47L582.21 437.44L582.43 437.42L582.66 437.39L582.88 437.37L583.10 437.34L583.33 437.31L583.55 437.28L583.77 437.25L583.99 437.22L584.21 437.20L584.44 437.19L584.66 437.18L584.88 437.19L585.11 437.20L585.33 437.22L585.55 437.25L585.77 437.27L585.99 437.31L586.22 437.34L586.44 437.37L586.66 437.39L586.88 437.42L587.11 437.44L587.33 437.46L587.55 437.48L587.78 437.50L588.00 437.51L588.22 437.53L588.44 437.54L588.66 437.54L588.89 437.55L589.11 437.56L589.33 437.56L589.56 437.57L589.78 437.57L590.00 437.57L590.22 437.58L590.44 437.58L590.67 437.58L590.89 437.58L591.11 437.58L591.34 437.58L591.56 437.58L591.78 437.58L592.00 437.58L592.22 437.58L592.45 437.57L592.67 437.57L592.89 437.57L593.12 437.56L593.34 437.56L593.56 437.55L593.78 437.54L594.00 437.53L594.23 437.52L594.45 437.51L594.67 437.49L594.89 437.48L595.12 437.46L595.34 437.44L595.56 437.41L595.79 437.39L596.01 437.36L596.23 437.34L596.45 437.31L596.67 437.29L596.90 437.27L597.12 437.25L597.34 437.24L597.57 437.24L597.79 437.25L598.01 437.27L598.23 437.29L598.45 437.31L598.68 437.34L598.90 437.37L599.12 437.39L599.35 437.42L599.57 437.44L599.79 437.47L600.01 437.49L600.23 437.50L600.46 437.52L600.68 437.53L600.90 437.55L601.12 437.56L601.35 437.56L601.57 437.57L601.79 437.58L602.02 437.58L602.24 437.59L602.46 437.59L602.68 437.60L602.90 437.60L603.13 437.60L603.35 437.61L603.57 437.61L603.80 437.61L604.02 437.61L604.24 437.61L604.46 437.61L604.68 437.62L604.91 437.62L605.13 437.62L605.35 437.62L605.58 437.62L605.80 437.62L606.02 437.62L606.24 437.62L606.46 437.62L606.69 437.62L606.91 437.62L607.13 437.62L607.36 437.63L607.58 437.63L607.80 437.63L608.02 437.63L608.24 437.63L608.47 437.63L608.69 437.63L608.91 437.63L609.13 437.63L609.36 437.63L609.58 437.63L609.80 437.63L610.03 437.63L610.25 437.63L610.47 437.63L610.69 437.63L610.91 437.63L611.14 437.63L611.36 437.63L611.58 437.63L611.81 437.63L612.03 437.63L612.25 437.63L612.47 437.63L612.69 437.63L612.92 437.63L613.14 437.63L613.36 437.63L613.59 437.63L613.81 437.63L614.03 437.63L614.25 437.63L614.47 437.63L614.70 437.63L614.92 437.63L615.14 437.63L615.37 437.63L615.59 437.63L615.81 437.63L616.03 437.63L616.25 437.63L616.48 437.63L616.70 437.63L616.92 437.63L617.14 437.63L617.37 437.63L617.59 437.62L617.81 437.62L618.04 437.62L618.26 437.62L618.48 437.62L618.70 437.62L618.92 437.62L619.15 437.62L619.37 437.62L619.59 437.62L619.82 437.62L620.04 437.62L620.26 437.62L620.48 437.62L620.70 437.62L620.93 437.61L621.15 437.61L621.37 437.61L621.60 437.61L621.82 437.61L622.04 437.61L622.26 437.61L622.48 437.61L622.71 437.61L622.93 437.60L623.15 437.60L623.38 437.60L623.60 437.60L623.82 437.60L624.04 437.59L624.27 437.59L624.49 437.59L624.71 437.59L624.93 437.59L625.15 437.58L625.38 437.58L625.60 437.58L625.82 437.57L626.05 437.57L626.27 437.57L626.49 437.56L626.71 437.56L626.93 437.55L627.16 437.55L627.38 437.54L627.60 437.54L627.83 437.53L628.05 437.53L628.27 437.52L628.49 437.51L628.71 437.50L628.94 437.50L629.16 437.49L629.38 437.47L629.61 437.46L629.83 437.45L630.05 437.44L630.27 437.42L630.49 437.40L630.72 437.39L630.94 437.36L631.16 437.34L631.38 437.31L631.61 437.28L631.83 437.25L632.05 437.21L632.28 437.16L632.50 437.11L632.72 437.04L632.94 436.96L633.16 436.87L633.39 436.76L633.61 436.62L633.83 436.45L634.06 436.25L634.28 436.01L634.50 435.72L634.72 435.39L634.94 435.01L635.17 434.59L635.39 434.14L635.61 433.68L635.84 433.26L636.06 432.93L636.28 432.75L636.50 432.75L636.72 432.93L636.95 433.26L637.17 433.68L637.39 434.14L637.62 434.59L637.84 435.01L638.06 435.39L638.28 435.72L638.50 436.01L638.73 436.25L638.95 436.45L639.17 436.62L639.39 436.76L639.62 436.87L639.84 436.97L640.06 437.05L640.29 437.11L640.51 437.17L640.73 437.21L640.95 437.25L641.17 437.29L641.40 437.32L641.62 437.35L641.84 437.37L642.07 437.39L642.29 437.41L642.51 437.43L642.73 437.44L642.95 437.46L643.18 437.47L643.40 437.48L643.62 437.49L643.85 437.50L644.07 437.51L644.29 437.52L644.51 437.53L644.73 437.53L644.96 437.54L645.18 437.55L645.40 437.55L645.62 437.56L645.85 437.56L646.07 437.57L646.29 437.57L646.52 437.58L646.74 437.58L646.96 437.58L647.18 437.59L647.40 437.59L647.63 437.59L647.85 437.60L648.07 437.60L648.30 437.60L648.52 437.60L648.74 437.61L648.96 437.61L649.18 437.61L649.41 437.61L649.63 437.62L649.85 437.62L650.08 437.62L650.30 437.62L650.52 437.62L650.74 437.62L650.96 437.63L651.19 437.63L651.41 437.63L651.63 437.63L651.86 437.63L652.08 437.63L652.30 437.63L652.52 437.63L652.74 437.63L652.97 437.64L653.19 437.64L653.41 437.64L653.63 437.64L653.86 437.64L654.08 437.64L654.30 437.64L654.53 437.64L654.75 437.64L654.97 437.64L655.19 437.64L655.41 437.64L655.64 437.65L655.86 437.65L656.08 437.65L656.31 437.65L656.53 437.65L656.75 437.65L656.97 437.65L657.19 437.65L657.42 437.65L657.64 437.65L657.86 437.65L658.09 437.65L658.31 437.65L658.53 437.65L658.75 437.65L658.97 437.65L659.20 437.65L659.42 437.65L659.64 437.66L659.87 437.66L660.09 437.66L660.31 437.66L660.53 437.66L660.75 437.66L660.98 437.66L661.20 437.66L661.42 437.66L661.64 437.66L661.87 437.66L662.09 437.66L662.31 437.66L662.54 437.66L662.76 437.66L662.98 437.66L663.20 437.66L663.42 437.66L663.65 437.66L663.87 437.66L664.09 437.66L664.32 437.66L664.54 437.66L664.76 437.66L664.98 437.66L665.20 437.66L665.43 437.66L665.65 437.66L665.87 437.66L666.10 437.66L666.32 437.66L666.54 437.66L666.76 437.66L666.98 437.67L667.21 437.67L667.43 437.67L667.65 437.67L667.88 437.67L668.10 437.67L668.32 437.67L668.54 437.67L668.77 437.67L668.99 437.67L669.21 437.67L669.43 437.67L669.65 437.67L669.88 437.67L670.10 437.67L670.32 437.67L670.55 437.67L670.77 437.67L670.99 437.67L671.21 437.67L671.43 437.67L671.66 437.67L671.88 437.67L672.10 437.67L672.33 437.67L672.55 437.67L672.77 437.67L672.99 437.67L673.21 437.67L673.44 437.67L673.66 437.67L673.88 437.67L674.11 437.67L674.33 437.67L674.55 437.67"/>
<mask id="bm" maskUnits="userSpaceOnUse" x="0" y="0" width="675" height="527"><use href="#bp" fill="none" stroke="#fff" stroke-width="2.3" stroke-linejoin="round"/></mask>
</defs>
<rect width="675" height="527" fill="#fff"/>
<g fill="none" stroke-linejoin="round" stroke-linecap="butt">
<path d="M118.30 395.99L118.97 394.61L119.64 394.15L120.30 395.66L120.97 396.53L121.64 395.47L122.31 395.08L122.97 394.62L123.64 396.87L124.31 397.05L124.98 395.32L125.64 395.65L126.31 394.79L126.98 395.41L127.65 396.51L128.31 396.78L128.98 394.91L129.65 397.02L130.31 397.59L130.98 398.02L131.65 397.01L132.32 397.08L132.99 397.63L133.65 397.49L134.32 397.30L134.99 397.03L135.66 396.78L136.32 397.69L136.99 399.59L137.66 397.46L138.33 399.47L138.99 398.45L139.66 399.72L140.33 398.51L141.00 399.31L141.66 398.53L142.33 397.13L143.00 398.97L143.67 398.28L144.33 400.31L145.00 399.50L145.67 398.76L146.34 399.53L147.00 399.23L147.67 399.57L148.34 400.65L149.00 399.38L149.67 400.69L150.34 398.44L151.01 400.63L151.68 399.69L152.34 400.39L153.01 399.67L153.68 401.13L154.34 399.86L155.01 400.95L155.68 399.86L156.35 400.53L157.02 401.07L157.68 401.98L158.35 400.76L159.02 401.14L159.69 400.25L160.35 402.10L161.02 401.42L161.69 401.57L162.36 401.88L163.02 402.06L163.69 402.20L164.36 402.98L165.03 403.45L165.69 403.04L166.36 402.33L167.03 401.67L167.69 402.24L168.36 402.29L169.03 402.64L169.70 402.82L170.37 403.37L171.03 403.00L171.70 402.30L172.37 404.21L173.04 404.66L173.70 402.67L174.37 404.19L175.04 403.75L175.71 403.98L176.37 405.79L177.04 403.45L177.71 403.71L178.38 405.17L179.04 404.86L179.71 405.52L180.38 406.49L181.05 406.02L181.71 405.78L182.38 405.34L183.05 405.82L183.72 406.49L184.38 405.62L185.05 407.45L185.72 406.37L186.38 406.27L187.05 407.54L187.72 408.87L188.39 408.33L189.06 407.58L189.72 407.47L190.39 406.79L191.06 408.89L191.73 408.22L192.39 407.82L193.06 408.56L193.73 410.02L194.40 408.04L195.06 407.31L195.73 408.11L196.40 409.70L197.06 409.42L197.73 409.05L198.40 407.88L199.07 408.97L199.74 409.47L200.40 408.48L201.07 409.84L201.74 408.48L202.41 410.51L203.07 410.46L203.74 409.68L204.41 409.26L205.07 409.95L205.74 410.32L206.41 412.02L207.08 411.29L207.75 411.30L208.41 411.32L209.08 410.57L209.75 411.34L210.42 410.59L211.08 411.19L211.75 411.58L212.42 411.33L213.08 411.18L213.75 410.94L214.42 411.99L215.09 411.89L215.75 412.79L216.42 410.69L217.09 410.87L217.76 412.12L218.43 412.40L219.09 413.01L219.76 412.04L220.43 412.07L221.10 410.89L221.76 412.12L222.43 412.90L223.10 413.73L223.77 411.37L224.43 412.26L225.10 413.58L225.77 412.30L226.44 413.60L227.10 411.07L227.77 411.62L228.44 412.00L229.11 412.51L229.77 413.69L230.44 412.28L231.11 412.99L231.78 410.16L232.44 406.98L233.11 403.79L233.78 408.84L234.44 410.88L235.11 413.59L235.78 414.20L236.45 412.76L237.12 413.01L237.78 414.52L238.45 414.51L239.12 414.70L239.79 415.22L240.45 415.04L241.12 413.88L241.79 414.43L242.45 413.76L243.12 415.27L243.79 415.45L244.46 416.17L245.12 415.72L245.79 416.65L246.46 417.09L247.13 415.55L247.80 415.17L248.46 415.69L249.13 415.47L249.80 416.30L250.46 417.05L251.13 416.62L251.80 417.02L252.47 417.61L253.13 418.09L253.80 418.05L254.47 417.17L255.14 417.14L255.81 417.63L256.47 416.47L257.14 417.35L257.81 417.17L258.48 416.83L259.14 418.23L259.81 418.99L260.48 417.36L261.15 418.36L261.81 417.16L262.48 417.86L263.15 417.50L263.81 417.73L264.48 419.50L265.15 417.91L265.82 418.87L266.49 418.99L267.15 418.86L267.82 418.18L268.49 418.18L269.16 418.18L269.82 419.92L270.49 419.33L271.16 420.17L271.82 419.07L272.49 418.66L273.16 419.53L273.83 418.92L274.50 418.95L275.16 418.49L275.83 419.65L276.50 419.67L277.17 419.65L277.83 418.11L278.50 418.55L279.17 419.32L279.83 419.13L280.50 419.22L281.17 419.18L281.84 419.46L282.50 419.56L283.17 420.15L283.84 419.79L284.51 418.39L285.18 419.10L285.84 419.41L286.51 419.61L287.18 419.46L287.85 419.30L288.51 419.94L289.18 419.44L289.85 419.43L290.51 420.06L291.18 420.11L291.85 420.26L292.52 420.32L293.19 419.14L293.85 420.87L294.52 419.89L295.19 420.12L295.86 420.15L296.52 419.73L297.19 419.12L297.86 419.78L298.53 419.94L299.19 420.25L299.86 419.97L300.53 419.36L301.19 420.17L301.86 420.65L302.53 420.75L303.20 420.67L303.87 420.85L304.53 419.35L305.20 419.82L305.87 420.19L306.54 419.17L307.20 420.47L307.87 419.62L308.54 419.61L309.20 421.04L309.87 421.06L310.54 420.69L311.21 419.59L311.88 419.37L312.54 420.91L313.21 419.55L313.88 420.42L314.55 420.44L315.21 420.55L315.88 420.42L316.55 421.34L317.21 420.86L317.88 421.01L318.55 419.98L319.22 419.15L319.89 419.16L320.55 420.52L321.22 421.36L321.89 420.58L322.56 420.92L323.22 419.22L323.89 420.03L324.56 420.83L325.22 419.84L325.89 420.09L326.56 421.40L327.23 420.76L327.90 420.59L328.56 420.45L329.23 420.40L329.90 420.69L330.56 420.39L331.23 420.86L331.90 421.06L332.57 419.63L333.24 420.33L333.90 420.30L334.57 421.53L335.24 420.68L335.91 420.11L336.57 421.38L337.24 419.97L337.91 420.87L338.57 420.42L339.24 420.75L339.91 420.55L340.58 419.98L341.25 420.95L341.91 419.80L342.58 421.21L343.25 421.31L343.92 420.35L344.58 421.42L345.25 421.02L345.92 420.27L346.58 420.11L347.25 421.90L347.92 420.56L348.59 419.75L349.25 420.18L349.92 421.04L350.59 421.27L351.26 421.10L351.93 421.63L352.59 421.11L353.26 421.08L353.93 421.07L354.59 420.30L355.26 421.15L355.93 421.89L356.60 420.42L357.27 421.69L357.93 421.34L358.60 421.17L359.27 421.30L359.94 421.71L360.60 421.28L361.27 420.03L361.94 421.52L362.61 421.25L363.27 420.53L363.94 420.76L364.61 420.77L365.28 420.72L365.94 422.36L366.61 421.77L367.28 421.20L367.94 421.00L368.61 420.55L369.28 421.05L369.95 421.48L370.62 421.34L371.28 421.51L371.95 421.26L372.62 421.03L373.29 421.65L373.95 421.94L374.62 421.99L375.29 420.87L375.95 420.78L376.62 420.97L377.29 421.07L377.96 421.11L378.62 421.61L379.29 421.25L379.96 422.26L380.63 421.79L381.30 422.12L381.96 421.29L382.63 422.07L383.30 421.82L383.96 421.54L384.63 421.01L385.30 422.27L385.97 422.38L386.63 421.39L387.30 422.52L387.97 421.64L388.64 422.25L389.31 422.00L389.97 423.01L390.64 421.57L391.31 422.29L391.97 422.54L392.64 420.95L393.31 421.65L393.98 421.00L394.65 421.87L395.31 422.32L395.98 422.08L396.65 421.25L397.31 422.20L397.98 421.95L398.65 421.93L399.32 422.77L399.99 422.19L400.65 422.57L401.32 423.01L401.99 421.82L402.66 421.95L403.32 422.30L403.99 422.87L404.66 423.44L405.32 422.10L405.99 422.45L406.66 423.36L407.33 422.45L408.00 423.29L408.66 422.45L409.33 422.37L410.00 422.26L410.67 422.35L411.33 422.39L412.00 423.15L412.67 422.73L413.33 422.81L414.00 422.67L414.67 422.40L415.34 422.21L416.00 421.65L416.67 423.66L417.34 422.37L418.01 422.72L418.68 421.55L419.34 422.11L420.01 423.58L420.68 422.44L421.34 422.97L422.01 422.13L422.68 423.29L423.35 422.77L424.02 422.80L424.68 422.79L425.35 423.07L426.02 423.79L426.69 422.51L427.35 422.22L428.02 422.83L428.69 423.38L429.35 422.71L430.02 422.52L430.69 422.94L431.36 422.87L432.03 422.08L432.69 423.51L433.36 423.21L434.03 423.97L434.69 423.32L435.36 423.36L436.03 423.50L436.70 423.37L437.37 422.01L438.03 423.14L438.70 423.11L439.37 422.01L440.04 423.12L440.70 424.06L441.37 422.90L442.04 423.66L442.70 422.25L443.37 423.87L444.04 423.52L444.71 424.10L445.38 423.18L446.04 423.82L446.71 423.31L447.38 423.50L448.05 423.65L448.71 422.81L449.38 422.84L450.05 423.34L450.71 423.88L451.38 424.00L452.05 423.28L452.72 422.41L453.38 423.72L454.05 423.92L454.72 423.89L455.39 424.12L456.06 424.07L456.72 423.67L457.39 422.80L458.06 423.60L458.72 423.89L459.39 424.51L460.06 423.53L460.73 423.67L461.40 424.34L462.06 424.28L462.73 423.72L463.40 423.16L464.06 423.39L464.73 423.63L465.40 423.93L466.07 423.59L466.74 423.79L467.40 422.77L468.07 424.42L468.74 424.02L469.41 423.15L470.07 424.00L470.74 423.10L471.41 423.90L472.07 423.82L472.74 424.11L473.41 424.67L474.08 424.46L474.75 422.93L475.41 423.62L476.08 423.65L476.75 423.48L477.42 423.70L478.08 423.47L478.75 424.18L479.42 424.17L480.08 423.53L480.75 424.27L481.42 424.80L482.09 424.23L482.75 424.41L483.42 423.80L484.09 424.53L484.76 424.73L485.43 424.35L486.09 423.36L486.76 424.23L487.43 424.13L488.10 424.23L488.76 424.09L489.43 423.76L490.10 423.53L490.76 425.16L491.43 423.58L492.10 424.32L492.77 424.50L493.44 423.33L494.10 424.45L494.77 423.36L495.44 423.87L496.11 424.94L496.77 424.15L497.44 424.04L498.11 424.51L498.77 425.46L499.44 424.65L500.11 424.58L500.78 425.08L501.44 423.55L502.11 424.65L502.78 424.75L503.45 424.71L504.12 424.98L504.78 424.99L505.45 424.54L506.12 424.44L506.79 424.89L507.45 424.68L508.12 425.38L508.79 424.39L509.45 425.07L510.12 424.58L510.79 425.18L511.46 424.99L512.12 424.62L512.79 425.38L513.46 423.77L514.13 424.80L514.80 424.83L515.46 425.19L516.13 423.98L516.80 424.11L517.46 424.69L518.13 425.57L518.80 425.14L519.47 424.57L520.13 425.17L520.80 425.53L521.47 425.55L522.14 425.34L522.81 424.95L523.47 425.31L524.14 424.97L524.81 424.01L525.48 424.09L526.14 425.56L526.81 424.86L527.48 425.00L528.14 425.13L528.81 424.53L529.48 425.26L530.15 425.27L530.82 425.31L531.48 425.18L532.15 424.48L532.82 424.75L533.49 425.86L534.15 425.41L534.82 425.61L535.49 424.79L536.15 425.10L536.82 424.78L537.49 425.28L538.16 426.24L538.83 425.04L539.49 425.17L540.16 425.04L540.83 425.98L541.49 425.29L542.16 425.69L542.83 425.71L543.50 425.19L544.16 425.20L544.83 425.85L545.50 426.28L546.17 426.39L546.84 425.73L547.50 424.87L548.17 425.49L548.84 426.44L549.50 425.93L550.17 425.28L550.84 424.66L551.51 424.93L552.17 425.35L552.84 425.45L553.51 426.10L554.18 425.81L554.85 425.76L555.51 426.00L556.18 425.59L556.85 425.83L557.51 425.47L558.18 424.93L558.85 425.30L559.52 425.47L560.18 425.82L560.85 426.48L561.52 425.78L562.19 425.46L562.86 426.26L563.52 425.13L564.19 425.95L564.86 425.60L565.52 425.97L566.19 426.45L566.86 424.88L567.53 426.43L568.19 425.40L568.86 426.15L569.53 425.74L570.20 426.30L570.87 426.12L571.53 425.46L572.20 424.99L572.87 426.37L573.54 425.96L574.20 425.50L574.87 426.31L575.54 425.65L576.20 426.41L576.87 425.73L577.54 425.83L578.21 425.45L578.88 425.89L579.54 426.68L580.21 425.77L580.88 426.66L581.55 425.75L582.21 425.39L582.88 425.85L583.55 426.44L584.21 425.58L584.88 426.11L585.55 426.82L586.22 426.40L586.88 425.53L587.55 426.40L588.22 426.21L588.89 426.45L589.56 427.13L590.22 426.57L590.89 426.16L591.56 426.25L592.22 426.45L592.89 427.32L593.56 425.80L594.23 426.06L594.89 425.93L595.56 425.81L596.23 426.68L596.90 426.78L597.57 426.34L598.23 425.70L598.90 427.35L599.57 426.66L600.23 426.91L600.90 426.31L601.57 425.88L602.24 426.76L602.90 427.23L603.57 426.62L604.24 426.80L604.91 427.43L605.58 426.27L606.24 426.97L606.91 426.40L607.58 427.38L608.24 426.23L608.91 427.47L609.58 426.28L610.25 427.68L610.91 426.16L611.58 427.02L612.25 427.61L612.92 426.99L613.59 426.73L614.25 427.38L614.92 427.16L615.59 426.81L616.25 427.04L616.92 427.88L617.59 427.20L618.26 426.80L618.92 426.88L619.59 426.56L620.26 427.39L620.93 426.16L621.60 426.71L622.26 426.96L622.93 426.60L623.60 426.68L624.26 427.10L624.93 427.46L625.60 426.70L626.27 427.00L626.93 428.12L627.60 427.76L628.27 427.03L628.94 427.22L629.61 427.15L630.27 427.00L630.94 427.25L631.61 426.59L632.27 427.63L632.94 427.55L633.61 427.23L634.28 427.05L634.94 427.05L635.61 426.73L636.28 427.67L636.95 426.92L637.62 427.26L638.28 427.99L638.95 427.58L639.62 426.64L640.29 427.18L640.95 427.78L641.62 428.47L642.29 427.94L642.95 427.94L643.62 427.59L644.29 426.76L644.96 427.31L645.62 427.53L646.29 428.13L646.96 428.26L647.63 427.82L648.30 427.96L648.96 426.88L649.63 427.96L650.30 428.08L650.96 427.29L651.63 427.79L652.30 428.42L652.97 427.28L653.63 428.03L654.30 428.52L654.97 427.78L655.64 427.73L656.31 428.13L656.97 427.67L657.64 427.63L658.31 428.43L658.97 428.92L659.64 428.94L660.31 428.15L660.98 427.55L661.64 427.67L662.31 427.52L662.98 427.33L663.65 428.18L664.32 427.73L664.98 428.92L665.65 427.94L666.32 428.09L666.98 428.33L667.65 428.51L668.32 428.83L668.99 428.29L669.65 427.80L670.32 428.55L670.99 428.17L671.66 428.73L672.33 428.34L672.99 428.92L673.66 428.32L674.33 428.61" stroke="#000" stroke-width="2.3"/>
<use href="#rp" stroke="#ff5050" stroke-width="2.3"/>
<use href="#bp" stroke="#0000ff" stroke-width="2.3"/>
<use href="#rp" stroke="#b00858" stroke-width="2.3" mask="url(#bm)"/>
</g>
<g stroke="#000" stroke-width="2.1" fill="none">
<line x1="118.4" x2="118.4" y1="0" y2="450.65"/>
<line x1="117.35" x2="675" y1="449.6" y2="449.6"/>
<line x1="674.5" x2="674.5" y1="0" y2="450.65"/>
<line x1="117.35" x2="675" y1="0.9" y2="0.9" stroke-width="1.8"/>
<line x1="109.2" x2="118.4" y1="438.50" y2="438.50"/>
<line x1="113.0" x2="118.4" y1="383.05" y2="383.05"/>
<line x1="109.2" x2="118.4" y1="327.60" y2="327.60"/>
<line x1="113.0" x2="118.4" y1="272.15" y2="272.15"/>
<line x1="109.2" x2="118.4" y1="216.70" y2="216.70"/>
<line x1="113.0" x2="118.4" y1="161.25" y2="161.25"/>
<line x1="109.2" x2="118.4" y1="105.80" y2="105.80"/>
<line x1="113.0" x2="118.4" y1="50.35" y2="50.35"/>
<line x1="118.30" x2="118.30" y1="449.6" y2="455.2"/>
<line x1="140.55" x2="140.55" y1="449.6" y2="455.2"/>
<line x1="162.80" x2="162.80" y1="449.6" y2="459.3"/>
<line x1="185.05" x2="185.05" y1="449.6" y2="455.2"/>
<line x1="207.30" x2="207.30" y1="449.6" y2="455.2"/>
<line x1="229.55" x2="229.55" y1="449.6" y2="455.2"/>
<line x1="251.80" x2="251.80" y1="449.6" y2="455.2"/>
<line x1="274.05" x2="274.05" y1="449.6" y2="459.3"/>
<line x1="296.30" x2="296.30" y1="449.6" y2="455.2"/>
<line x1="318.55" x2="318.55" y1="449.6" y2="455.2"/>
<line x1="340.80" x2="340.80" y1="449.6" y2="455.2"/>
<line x1="363.05" x2="363.05" y1="449.6" y2="455.2"/>
<line x1="385.30" x2="385.30" y1="449.6" y2="459.3"/>
<line x1="407.55" x2="407.55" y1="449.6" y2="455.2"/>
<line x1="429.80" x2="429.80" y1="449.6" y2="455.2"/>
<line x1="452.05" x2="452.05" y1="449.6" y2="455.2"/>
<line x1="474.30" x2="474.30" y1="449.6" y2="455.2"/>
<line x1="496.55" x2="496.55" y1="449.6" y2="459.3"/>
<line x1="518.80" x2="518.80" y1="449.6" y2="455.2"/>
<line x1="541.05" x2="541.05" y1="449.6" y2="455.2"/>
<line x1="563.30" x2="563.30" y1="449.6" y2="455.2"/>
<line x1="585.55" x2="585.55" y1="449.6" y2="455.2"/>
<line x1="607.80" x2="607.80" y1="449.6" y2="459.3"/>
<line x1="630.05" x2="630.05" y1="449.6" y2="455.2"/>
<line x1="652.30" x2="652.30" y1="449.6" y2="455.2"/>
<line x1="674.55" x2="674.55" y1="449.6" y2="455.2"/>
</g>
<text x="104.6" y="446.2" text-anchor="end" class="tk">0</text><text x="104.6" y="335.3" text-anchor="end" class="tk">2000</text><text x="104.6" y="224.4" text-anchor="end" class="tk">4000</text><text x="104.6" y="113.5" text-anchor="end" class="tk">6000</text>
<text x="163.4" y="483.2" text-anchor="middle" class="tk">30</text><text x="274.7" y="483.2" text-anchor="middle" class="tk">40</text><text x="385.5" y="483.2" text-anchor="middle" class="tk">50</text><text x="496.2" y="483.2" text-anchor="middle" class="tk">60</text><text x="607.4" y="483.2" text-anchor="middle" class="tk">70</text>
<text x="336" y="521.7" class="ax">2θ (degree)</text>
<text transform="translate(17.7 330.2) rotate(-90) scale(0.989 1)" class="ax">Intensity (counts)</text>
<text x="126.5" y="389" style="font-size:16.5px">x10</text>
<text transform="translate(218.8 50.7) scale(1 0.98)" class="pk" style="font-size:19.5px">(002)</text>
<text transform="translate(189.8 401.7) rotate(-90) scale(1 1.05)" class="pk">(100)</text>
<text transform="translate(240.2 401.7) rotate(-90) scale(1 1.05)" class="pk">(101)</text>
<text transform="translate(364.7 420.0) rotate(-90) scale(1 1.05)" class="pk">(102)</text>
<text transform="translate(465.0 420.0) rotate(-90) scale(1 1.05)" class="pk">(110)</text>
<text transform="translate(534.2 419.3) rotate(-90) scale(1 1.05)" class="pk">(103)</text>
<text transform="translate(641.9 419.3) rotate(-90) scale(1 1.05)" class="pk">(004)</text>
<g fill="none">
<line x1="422.7" x2="461.6" y1="38.5" y2="38.5" stroke="#000" stroke-width="1.4"/>
<line x1="422.7" x2="461.6" y1="59.6" y2="59.6" stroke="#0000ff" stroke-width="2.4"/>
<line x1="422.7" x2="461.6" y1="79.8" y2="79.8" stroke="#ff5050" stroke-width="2.2"/>
</g>
<text x="466" y="44.3" class="lg">Zn</text>
<text x="466" y="65.4" class="lg">ZnO NRs on flat substrate</text>
<text x="466" y="86.5" class="lg">ZnO NRs on 3D structure</text>
</svg>
</body></html>
